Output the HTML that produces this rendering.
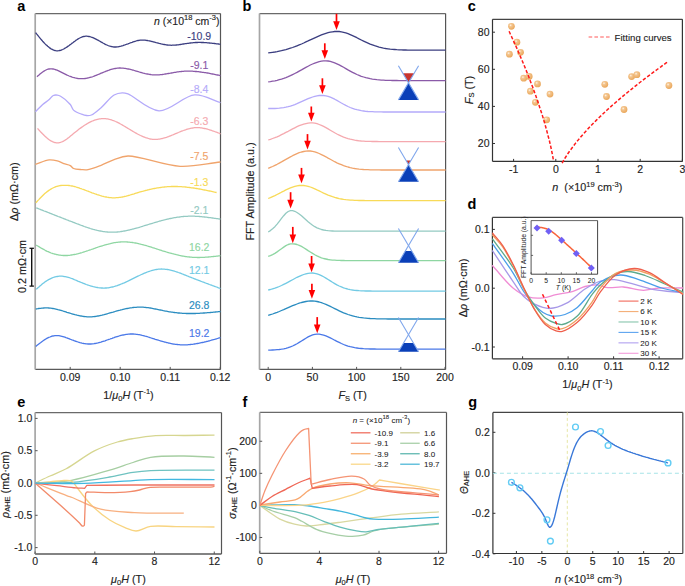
<!DOCTYPE html>
<html><head><meta charset="utf-8"><style>
html,body{margin:0;padding:0;background:#fff;width:685px;height:586px;overflow:hidden;}
svg{display:block;font-family:"Liberation Sans", sans-serif;}
</style></head><body>
<svg width="685" height="586" viewBox="0 0 685 586">
<rect width="685" height="586" fill="#fff"/>
<line x1="35.20" y1="13.60" x2="220.50" y2="13.60" stroke="#6a6a6a" stroke-width="1.3" />
<line x1="220.50" y1="13.60" x2="220.50" y2="369.40" stroke="#555" stroke-width="1.2" />
<line x1="35.20" y1="369.40" x2="220.50" y2="369.40" stroke="#5a5a5a" stroke-width="1.3" />
<line x1="35.20" y1="13.60" x2="35.20" y2="369.40" stroke="#a6a6a6" stroke-width="1.7" />
<line x1="70.20" y1="369.40" x2="70.20" y2="366.90" stroke="#555" stroke-width="1" />
<text x="70.20" y="380.60" font-size="10.5" text-anchor="middle" fill="#222" font-weight="normal" stroke="#222" stroke-width="0.14" >0.09</text>
<line x1="120.20" y1="369.40" x2="120.20" y2="366.90" stroke="#555" stroke-width="1" />
<text x="120.20" y="380.60" font-size="10.5" text-anchor="middle" fill="#222" font-weight="normal" stroke="#222" stroke-width="0.14" >0.10</text>
<line x1="170.20" y1="369.40" x2="170.20" y2="366.90" stroke="#555" stroke-width="1" />
<text x="170.20" y="380.60" font-size="10.5" text-anchor="middle" fill="#222" font-weight="normal" stroke="#222" stroke-width="0.14" >0.11</text>
<line x1="220.20" y1="369.40" x2="220.20" y2="366.90" stroke="#555" stroke-width="1" />
<text x="220.20" y="380.60" font-size="10.5" text-anchor="middle" fill="#222" font-weight="normal" stroke="#222" stroke-width="0.14" >0.12</text>
<text x="128.50" y="398.60" font-size="10.8" text-anchor="middle" fill="#222" font-weight="normal" stroke="#222" stroke-width="0.14" >1/<tspan font-style="italic">μ</tspan><tspan font-size="7.5" dy="2.2">0</tspan><tspan dy="-2.2"><tspan font-style="italic">H</tspan> (T<tspan font-size="7.5" dy="-4.2">-1</tspan><tspan dy="4.2">)</tspan></tspan></text>
<text x="21.40" y="11.10" font-size="14.5" text-anchor="middle" fill="#000" font-weight="bold" >a</text>
<path d="M35.6,32.6 36.6,33.9 37.6,35.1 38.6,36.4 39.6,37.6 40.6,38.8 41.6,40.0 42.6,41.2 43.6,42.3 44.6,43.4 45.6,44.4 46.7,45.3 47.7,46.3 48.7,47.1 49.7,47.9 50.7,48.6 51.7,49.2 52.7,49.7 53.7,50.1 54.7,50.5 55.7,50.7 56.7,50.8 57.7,50.8 58.7,50.7 59.7,50.5 60.7,50.3 61.7,49.9 62.7,49.5 63.7,49.0 64.7,48.4 65.7,47.8 66.8,47.1 67.8,46.4 68.8,45.7 69.8,44.9 70.8,44.2 71.8,43.4 72.8,42.7 73.8,41.9 74.8,41.2 75.8,40.4 76.8,39.8 77.8,39.1 78.8,38.5 79.8,38.0 80.8,37.5 81.8,37.1 82.8,36.7 83.8,36.5 84.8,36.3 85.8,36.2 86.8,36.2 87.9,36.3 88.9,36.5 89.9,36.7 90.9,37.0 91.9,37.3 92.9,37.7 93.9,38.1 94.9,38.6 95.9,39.1 96.9,39.6 97.9,40.2 98.9,40.7 99.9,41.3 100.9,41.9 101.9,42.4 102.9,43.0 103.9,43.5 104.9,44.1 105.9,44.6 106.9,45.0 108.0,45.5 109.0,45.9 110.0,46.2 111.0,46.5 112.0,46.7 113.0,46.9 114.0,47.0 115.0,47.0 116.0,47.0 117.0,46.9 118.0,46.8 119.0,46.6 120.0,46.4 121.0,46.2 122.0,45.9 123.0,45.6 124.0,45.2 125.0,44.9 126.0,44.5 127.0,44.1 128.0,43.8 129.1,43.4 130.1,43.0 131.1,42.6 132.1,42.3 133.1,41.9 134.1,41.6 135.1,41.3 136.1,41.0 137.1,40.7 138.1,40.5 139.1,40.4 140.1,40.2 141.1,40.2 142.1,40.1 143.1,40.1 144.1,40.2 145.1,40.2 146.1,40.4 147.1,40.5 148.1,40.7 149.2,40.8 150.2,41.0 151.2,41.3 152.2,41.5 153.2,41.8 154.2,42.0 155.2,42.3 156.2,42.6 157.2,42.8 158.2,43.1 159.2,43.4 160.2,43.6 161.2,43.9 162.2,44.1 163.2,44.3 164.2,44.5 165.2,44.7 166.2,44.9 167.2,45.0 168.2,45.1 169.3,45.2 170.3,45.2 171.3,45.3 172.3,45.2 173.3,45.2 174.3,45.2 175.3,45.1 176.3,45.0 177.3,44.9 178.3,44.8 179.3,44.6 180.3,44.5 181.3,44.4 182.3,44.2 183.3,44.0 184.3,43.9 185.3,43.7 186.3,43.6 187.3,43.4 188.3,43.3 189.3,43.1 190.4,43.0 191.4,42.9 192.4,42.8 193.4,42.7 194.4,42.6 195.4,42.5 196.4,42.5 197.4,42.5 198.4,42.4 199.4,42.4 200.4,42.4 201.4,42.5 202.4,42.5 203.4,42.5 204.4,42.6 205.4,42.6 206.4,42.7 207.4,42.8 208.4,42.9 209.4,43.0 210.5,43.1 211.5,43.2 212.5,43.3 213.5,43.4 214.5,43.5 215.5,43.6 216.5,43.8 217.5,43.9 218.5,44.0 219.5,44.2 220.5,44.3" fill="none" stroke="#3B3E80" stroke-width="1.3" stroke-linejoin="round"/>
<text x="199.20" y="40.40" font-size="10.5" text-anchor="middle" fill="#3B3E80" font-weight="normal" stroke="#3B3E80" stroke-width="0.14" >-10.9</text>
<path d="M37.0,76.7 38.0,75.8 39.0,75.0 40.0,74.1 41.0,73.3 42.0,72.5 43.0,71.8 44.0,71.1 45.0,70.5 46.0,70.0 47.0,69.5 48.0,69.2 49.0,69.0 50.0,68.8 51.0,68.8 52.0,68.8 53.0,69.0 54.0,69.2 55.0,69.5 56.1,69.8 57.1,70.2 58.1,70.6 59.1,71.1 60.1,71.6 61.1,72.1 62.1,72.6 63.1,73.1 64.1,73.6 65.1,74.1 66.1,74.6 67.1,75.1 68.1,75.5 69.1,76.0 70.1,76.3 71.1,76.7 72.1,77.1 73.1,77.4 74.1,77.6 75.1,77.9 76.1,78.1 77.1,78.3 78.1,78.5 79.1,78.6 80.1,78.7 81.1,78.7 82.1,78.7 83.1,78.7 84.1,78.6 85.1,78.5 86.1,78.4 87.1,78.2 88.1,78.0 89.1,77.7 90.1,77.4 91.1,77.1 92.2,76.8 93.2,76.5 94.2,76.1 95.2,75.7 96.2,75.3 97.2,74.9 98.2,74.5 99.2,74.1 100.2,73.7 101.2,73.2 102.2,72.8 103.2,72.4 104.2,72.0 105.2,71.6 106.2,71.2 107.2,70.8 108.2,70.4 109.2,70.1 110.2,69.7 111.2,69.4 112.2,69.1 113.2,68.9 114.2,68.7 115.2,68.5 116.2,68.3 117.2,68.2 118.2,68.1 119.2,68.0 120.2,68.0 121.2,68.1 122.2,68.1 123.2,68.2 124.2,68.3 125.2,68.4 126.2,68.6 127.2,68.8 128.2,69.0 129.3,69.2 130.3,69.4 131.3,69.7 132.3,70.0 133.3,70.2 134.3,70.5 135.3,70.8 136.3,71.1 137.3,71.4 138.3,71.7 139.3,72.0 140.3,72.3 141.3,72.5 142.3,72.8 143.3,73.1 144.3,73.3 145.3,73.6 146.3,73.8 147.3,74.0 148.3,74.2 149.3,74.4 150.3,74.5 151.3,74.7 152.3,74.8 153.3,74.8 154.3,74.9 155.3,74.9 156.3,74.9 157.3,74.9 158.3,74.8 159.3,74.8 160.3,74.7 161.3,74.6 162.3,74.5 163.3,74.3 164.3,74.2 165.3,74.0 166.4,73.9 167.4,73.7 168.4,73.5 169.4,73.3 170.4,73.2 171.4,73.0 172.4,72.8 173.4,72.6 174.4,72.4 175.4,72.3 176.4,72.1 177.4,71.9 178.4,71.8 179.4,71.7 180.4,71.6 181.4,71.5 182.4,71.4 183.4,71.3 184.4,71.2 185.4,71.2 186.4,71.2 187.4,71.1 188.4,71.1 189.4,71.1 190.4,71.2 191.4,71.2 192.4,71.2 193.4,71.3 194.4,71.4 195.4,71.5 196.4,71.5 197.4,71.6 198.4,71.7 199.4,71.9 200.4,72.0 201.4,72.1 202.5,72.3 203.5,72.4 204.5,72.6 205.5,72.7 206.5,72.9 207.5,73.0 208.5,73.2 209.5,73.4 210.5,73.6 211.5,73.8 212.5,74.0 213.5,74.2 214.5,74.4 215.5,74.6 216.5,74.8 217.5,75.0 218.5,75.2 219.5,75.4 220.5,75.6" fill="none" stroke="#8A5AA8" stroke-width="1.3" stroke-linejoin="round"/>
<text x="199.20" y="69.20" font-size="10.5" text-anchor="middle" fill="#8A5AA8" font-weight="normal" stroke="#8A5AA8" stroke-width="0.14" >-9.1</text>
<path d="M35.40,111.80 C37.83,109.37 40.26,106.62 42.70,104.50 C44.86,102.62 47.33,101.23 49.20,99.60 C50.78,98.23 51.81,96.21 53.30,95.50 C54.54,94.91 56.05,94.94 57.30,95.10 C58.47,95.25 59.29,95.54 60.60,96.30 C63.09,97.74 68.08,101.83 70.30,104.50 C71.88,106.40 71.88,108.56 73.50,110.10 C75.42,111.93 79.19,113.28 81.60,114.20 C83.40,114.88 84.85,115.37 86.50,115.50 C88.12,115.63 89.60,115.70 91.40,115.00 C94.22,113.89 97.73,110.60 101.10,107.70 C105.23,104.16 109.98,97.36 114.10,95.00 C116.90,93.40 119.71,92.90 122.20,92.80 C124.28,92.72 125.40,92.97 128.00,93.90 C134.35,96.17 148.19,110.37 159.00,110.80 C170.37,111.26 183.64,95.59 194.70,94.90 C203.88,94.32 211.90,100.10 220.50,102.70" fill="none" stroke="#B4AAFA" stroke-width="1.3" stroke-linejoin="round"/>
<text x="199.20" y="93.00" font-size="10.5" text-anchor="middle" fill="#B4AAFA" font-weight="normal" stroke="#B4AAFA" stroke-width="0.14" >-8.4</text>
<path d="M37.5,128.4 38.5,129.5 39.5,130.6 40.5,131.7 41.5,132.7 42.5,133.8 43.5,134.8 44.5,135.8 45.5,136.7 46.5,137.6 47.5,138.4 48.5,139.2 49.5,140.0 50.5,140.6 51.5,141.2 52.5,141.7 53.5,142.1 54.5,142.5 55.5,142.7 56.5,142.9 57.5,142.9 58.5,142.8 59.5,142.6 60.5,142.4 61.5,142.0 62.5,141.6 63.5,141.1 64.5,140.5 65.5,139.9 66.5,139.2 67.5,138.4 68.5,137.7 69.5,136.9 70.5,136.1 71.5,135.3 72.5,134.4 73.5,133.6 74.5,132.8 75.5,132.0 76.5,131.2 77.5,130.4 78.5,129.6 79.5,128.8 80.5,128.1 81.5,127.4 82.5,126.7 83.5,126.0 84.5,125.3 85.5,124.7 86.5,124.1 87.5,123.5 88.5,122.9 89.5,122.4 90.5,121.9 91.5,121.4 92.5,121.0 93.5,120.6 94.5,120.2 95.5,119.9 96.5,119.6 97.5,119.3 98.5,119.1 99.5,118.9 100.5,118.8 101.5,118.7 102.5,118.6 103.5,118.6 104.5,118.6 105.5,118.7 106.5,118.8 107.5,118.9 108.5,119.1 109.5,119.4 110.5,119.6 111.5,119.9 112.5,120.3 113.5,120.6 114.5,121.0 115.5,121.5 116.5,121.9 117.5,122.4 118.5,122.9 119.5,123.4 120.5,124.0 121.5,124.5 122.5,125.1 123.5,125.7 124.5,126.3 125.5,126.9 126.5,127.5 127.5,128.1 128.5,128.7 129.5,129.3 130.5,129.9 131.5,130.5 132.5,131.1 133.5,131.7 134.5,132.3 135.5,132.9 136.5,133.4 137.5,134.0 138.5,134.5 139.5,135.0 140.5,135.5 141.5,135.9 142.5,136.4 143.5,136.8 144.5,137.2 145.5,137.6 146.5,137.9 147.5,138.2 148.5,138.5 149.5,138.8 150.5,139.0 151.5,139.1 152.5,139.3 153.5,139.4 154.5,139.4 155.5,139.4 156.5,139.4 157.5,139.3 158.5,139.2 159.5,139.1 160.5,138.9 161.5,138.7 162.5,138.5 163.5,138.2 164.5,137.9 165.5,137.6 166.5,137.3 167.5,136.9 168.5,136.6 169.5,136.2 170.5,135.8 171.5,135.4 172.5,135.0 173.5,134.6 174.5,134.2 175.5,133.7 176.5,133.3 177.5,132.9 178.5,132.5 179.5,132.0 180.5,131.6 181.5,131.2 182.5,130.8 183.5,130.5 184.5,130.1 185.5,129.8 186.5,129.4 187.5,129.1 188.5,128.8 189.5,128.6 190.5,128.3 191.5,128.1 192.5,128.0 193.5,127.8 194.5,127.7 195.5,127.6 196.5,127.6 197.5,127.6 198.5,127.6 199.5,127.7 200.5,127.8 201.5,127.9 202.5,128.1 203.5,128.3 204.5,128.5 205.5,128.7 206.5,128.9 207.5,129.2 208.5,129.5 209.5,129.8 210.5,130.1 211.5,130.4 212.5,130.8 213.5,131.1 214.5,131.5 215.5,131.9 216.5,132.2 217.5,132.6 218.5,133.0 219.5,133.4 220.5,133.8" fill="none" stroke="#F5A9AF" stroke-width="1.3" stroke-linejoin="round"/>
<text x="199.20" y="125.40" font-size="10.5" text-anchor="middle" fill="#F5A9AF" font-weight="normal" stroke="#F5A9AF" stroke-width="0.14" >-6.3</text>
<path d="M35.40,164.40 C40.00,162.90 45.17,160.29 49.20,159.90 C52.22,159.61 54.79,160.24 57.30,160.90 C59.63,161.52 61.61,162.81 63.80,163.60 C65.95,164.37 68.59,164.63 70.30,165.60 C71.66,166.37 72.06,167.83 73.50,168.50 C75.49,169.42 79.04,169.43 81.60,169.60 C83.88,169.75 85.60,170.00 88.10,169.60 C91.73,169.02 96.80,166.95 101.10,165.30 C105.47,163.62 109.63,161.15 114.10,159.60 C118.60,158.04 121.86,156.18 128.00,156.00 C139.80,155.66 163.78,165.57 180.10,166.30 C194.37,166.94 207.03,163.43 220.50,162.00" fill="none" stroke="#F0A46C" stroke-width="1.3" stroke-linejoin="round"/>
<text x="199.20" y="160.00" font-size="10.5" text-anchor="middle" fill="#F0A46C" font-weight="normal" stroke="#F0A46C" stroke-width="0.14" >-7.5</text>
<path d="M35.8,202.8 36.8,201.7 37.8,200.6 38.8,199.6 39.8,198.5 40.8,197.5 41.8,196.5 42.8,195.5 43.8,194.5 44.8,193.6 45.8,192.7 46.8,191.9 47.9,191.1 48.9,190.4 49.9,189.7 50.9,189.1 51.9,188.5 52.9,188.0 53.9,187.5 54.9,187.1 55.9,186.7 56.9,186.4 57.9,186.1 58.9,185.9 59.9,185.7 60.9,185.5 61.9,185.4 62.9,185.3 63.9,185.3 64.9,185.3 65.9,185.3 66.9,185.3 67.9,185.4 68.9,185.5 70.0,185.7 71.0,185.8 72.0,186.0 73.0,186.2 74.0,186.5 75.0,186.7 76.0,187.0 77.0,187.3 78.0,187.6 79.0,187.9 80.0,188.3 81.0,188.6 82.0,189.0 83.0,189.3 84.0,189.7 85.0,190.1 86.0,190.5 87.0,190.9 88.0,191.2 89.0,191.6 90.0,192.0 91.0,192.4 92.0,192.8 93.1,193.1 94.1,193.5 95.1,193.9 96.1,194.2 97.1,194.6 98.1,194.9 99.1,195.2 100.1,195.5 101.1,195.8 102.1,196.1 103.1,196.3 104.1,196.6 105.1,196.8 106.1,197.0 107.1,197.2 108.1,197.3 109.1,197.5 110.1,197.6 111.1,197.7 112.1,197.8 113.1,197.8 114.1,197.8 115.2,197.8 116.2,197.7 117.2,197.7 118.2,197.6 119.2,197.4 120.2,197.3 121.2,197.1 122.2,197.0 123.2,196.8 124.2,196.5 125.2,196.3 126.2,196.1 127.2,195.8 128.2,195.5 129.2,195.3 130.2,195.0 131.2,194.7 132.2,194.4 133.2,194.1 134.2,193.8 135.2,193.4 136.2,193.1 137.2,192.8 138.3,192.5 139.3,192.2 140.3,191.9 141.3,191.6 142.3,191.3 143.3,191.1 144.3,190.8 145.3,190.5 146.3,190.3 147.3,190.0 148.3,189.8 149.3,189.5 150.3,189.3 151.3,189.1 152.3,188.9 153.3,188.7 154.3,188.5 155.3,188.3 156.3,188.1 157.3,187.9 158.3,187.8 159.3,187.6 160.4,187.5 161.4,187.3 162.4,187.2 163.4,187.1 164.4,187.0 165.4,186.9 166.4,186.8 167.4,186.7 168.4,186.7 169.4,186.6 170.4,186.6 171.4,186.5 172.4,186.5 173.4,186.5 174.4,186.5 175.4,186.5 176.4,186.5 177.4,186.5 178.4,186.6 179.4,186.6 180.4,186.6 181.4,186.7 182.4,186.8 183.5,186.9 184.5,186.9 185.5,187.0 186.5,187.1 187.5,187.3 188.5,187.4 189.5,187.5 190.5,187.6 191.5,187.8 192.5,187.9 193.5,188.0 194.5,188.2 195.5,188.4 196.5,188.5 197.5,188.7 198.5,188.9 199.5,189.0 200.5,189.2 201.5,189.4 202.5,189.6 203.5,189.8 204.5,190.0 205.6,190.2 206.6,190.4 207.6,190.6 208.6,190.8 209.6,191.0 210.6,191.2 211.6,191.4 212.6,191.6 213.6,191.9 214.6,192.1 215.6,192.3 216.6,192.5" fill="none" stroke="#F8DA58" stroke-width="1.3" stroke-linejoin="round"/>
<text x="199.20" y="186.00" font-size="10.5" text-anchor="middle" fill="#F8DA58" font-weight="normal" stroke="#F8DA58" stroke-width="0.14" >-1.3</text>
<path d="M36.2,207.8 37.2,208.2 38.2,208.6 39.2,209.0 40.2,209.4 41.2,209.8 42.2,210.2 43.2,210.6 44.2,211.0 45.2,211.3 46.2,211.7 47.2,212.1 48.2,212.5 49.2,212.9 50.2,213.3 51.2,213.7 52.2,214.1 53.2,214.5 54.2,214.9 55.2,215.3 56.2,215.7 57.2,216.1 58.2,216.5 59.2,216.8 60.2,217.2 61.2,217.6 62.2,218.0 63.2,218.4 64.2,218.8 65.2,219.2 66.2,219.6 67.3,220.0 68.3,220.4 69.3,220.8 70.3,221.1 71.3,221.5 72.3,221.9 73.3,222.3 74.3,222.7 75.3,223.1 76.3,223.5 77.3,223.9 78.3,224.2 79.3,224.6 80.3,225.0 81.3,225.4 82.3,225.7 83.3,226.1 84.3,226.5 85.3,226.8 86.3,227.2 87.3,227.5 88.3,227.8 89.3,228.1 90.3,228.5 91.3,228.8 92.3,229.1 93.3,229.4 94.3,229.6 95.3,229.9 96.3,230.1 97.3,230.4 98.3,230.6 99.3,230.8 100.3,231.0 101.3,231.2 102.3,231.4 103.3,231.6 104.3,231.7 105.3,231.8 106.3,231.9 107.3,232.0 108.3,232.1 109.3,232.2 110.3,232.2 111.3,232.2 112.3,232.2 113.3,232.2 114.3,232.2 115.3,232.1 116.3,232.1 117.3,232.0 118.3,231.9 119.3,231.8 120.3,231.7 121.3,231.5 122.3,231.4 123.3,231.2 124.3,231.0 125.3,230.8 126.3,230.6 127.3,230.4 128.4,230.2 129.4,230.0 130.4,229.7 131.4,229.5 132.4,229.2 133.4,229.0 134.4,228.7 135.4,228.4 136.4,228.1 137.4,227.8 138.4,227.6 139.4,227.3 140.4,227.0 141.4,226.7 142.4,226.4 143.4,226.0 144.4,225.7 145.4,225.4 146.4,225.1 147.4,224.8 148.4,224.5 149.4,224.2 150.4,223.9 151.4,223.6 152.4,223.3 153.4,223.0 154.4,222.7 155.4,222.4 156.4,222.1 157.4,221.8 158.4,221.5 159.4,221.2 160.4,221.0 161.4,220.7 162.4,220.4 163.4,220.2 164.4,219.9 165.4,219.7 166.4,219.4 167.4,219.2 168.4,219.0 169.4,218.7 170.4,218.5 171.4,218.3 172.4,218.1 173.4,217.9 174.4,217.7 175.4,217.6 176.4,217.4 177.4,217.2 178.4,217.1 179.4,217.0 180.4,216.8 181.4,216.7 182.4,216.6 183.4,216.5 184.4,216.4 185.4,216.4 186.4,216.3 187.4,216.3 188.4,216.2 189.4,216.2 190.5,216.2 191.5,216.2 192.5,216.2 193.5,216.2 194.5,216.2 195.5,216.3 196.5,216.3 197.5,216.4 198.5,216.4 199.5,216.5 200.5,216.6 201.5,216.7 202.5,216.8 203.5,216.9 204.5,217.0 205.5,217.1 206.5,217.2 207.5,217.3 208.5,217.5 209.5,217.6 210.5,217.7 211.5,217.9 212.5,218.0 213.5,218.1 214.5,218.3 215.5,218.4 216.5,218.6 217.5,218.7 218.5,218.9 219.5,219.0 220.5,219.2" fill="none" stroke="#94CAC2" stroke-width="1.3" stroke-linejoin="round"/>
<text x="199.20" y="214.00" font-size="10.5" text-anchor="middle" fill="#94CAC2" font-weight="normal" stroke="#94CAC2" stroke-width="0.14" >-2.1</text>
<path d="M36.2,245.1 37.2,245.7 38.2,246.3 39.2,246.9 40.2,247.5 41.2,248.1 42.2,248.6 43.2,249.2 44.2,249.7 45.2,250.3 46.2,250.8 47.2,251.3 48.2,251.7 49.2,252.2 50.2,252.6 51.2,253.0 52.2,253.3 53.2,253.7 54.2,254.0 55.2,254.2 56.2,254.5 57.2,254.7 58.2,254.9 59.2,255.1 60.2,255.2 61.2,255.3 62.2,255.4 63.2,255.5 64.2,255.5 65.2,255.5 66.2,255.5 67.3,255.5 68.3,255.4 69.3,255.3 70.3,255.2 71.3,255.0 72.3,254.9 73.3,254.7 74.3,254.5 75.3,254.3 76.3,254.1 77.3,253.8 78.3,253.6 79.3,253.3 80.3,253.0 81.3,252.8 82.3,252.5 83.3,252.1 84.3,251.8 85.3,251.5 86.3,251.2 87.3,250.8 88.3,250.5 89.3,250.1 90.3,249.8 91.3,249.5 92.3,249.1 93.3,248.8 94.3,248.4 95.3,248.1 96.3,247.7 97.3,247.4 98.3,247.0 99.3,246.7 100.3,246.4 101.3,246.1 102.3,245.8 103.3,245.5 104.3,245.2 105.3,244.9 106.3,244.6 107.3,244.3 108.3,244.1 109.3,243.8 110.3,243.6 111.3,243.3 112.3,243.1 113.3,242.9 114.3,242.7 115.3,242.6 116.3,242.4 117.3,242.3 118.3,242.2 119.3,242.1 120.3,242.0 121.3,241.9 122.3,241.9 123.3,241.9 124.3,241.9 125.3,241.9 126.3,241.9 127.3,242.0 128.4,242.1 129.4,242.2 130.4,242.3 131.4,242.4 132.4,242.5 133.4,242.7 134.4,242.8 135.4,243.0 136.4,243.2 137.4,243.4 138.4,243.6 139.4,243.9 140.4,244.1 141.4,244.4 142.4,244.6 143.4,244.9 144.4,245.2 145.4,245.4 146.4,245.7 147.4,246.0 148.4,246.3 149.4,246.6 150.4,246.9 151.4,247.2 152.4,247.6 153.4,247.9 154.4,248.2 155.4,248.5 156.4,248.8 157.4,249.2 158.4,249.5 159.4,249.8 160.4,250.1 161.4,250.4 162.4,250.8 163.4,251.1 164.4,251.4 165.4,251.7 166.4,252.0 167.4,252.3 168.4,252.6 169.4,252.9 170.4,253.1 171.4,253.4 172.4,253.7 173.4,253.9 174.4,254.2 175.4,254.4 176.4,254.7 177.4,254.9 178.4,255.1 179.4,255.4 180.4,255.6 181.4,255.8 182.4,256.0 183.4,256.1 184.4,256.3 185.4,256.5 186.4,256.6 187.4,256.8 188.4,256.9 189.4,257.0 190.5,257.1 191.5,257.2 192.5,257.3 193.5,257.3 194.5,257.4 195.5,257.4 196.5,257.4 197.5,257.5 198.5,257.5 199.5,257.5 200.5,257.4 201.5,257.4 202.5,257.4 203.5,257.3 204.5,257.3 205.5,257.2 206.5,257.1 207.5,257.1 208.5,257.0 209.5,256.9 210.5,256.8 211.5,256.7 212.5,256.6 213.5,256.5 214.5,256.4 215.5,256.3 216.5,256.2 217.5,256.1 218.5,255.9 219.5,255.8 220.5,255.7" fill="none" stroke="#8ED6A2" stroke-width="1.3" stroke-linejoin="round"/>
<text x="199.20" y="251.00" font-size="10.5" text-anchor="middle" fill="#8ED6A2" font-weight="normal" stroke="#8ED6A2" stroke-width="0.14" >16.2</text>
<path d="M36.2,289.3 37.2,288.4 38.2,287.5 39.2,286.7 40.2,285.8 41.2,285.0 42.2,284.1 43.2,283.3 44.2,282.6 45.2,281.8 46.2,281.1 47.2,280.5 48.2,279.9 49.2,279.3 50.2,278.8 51.2,278.3 52.2,277.9 53.2,277.5 54.2,277.2 55.2,276.9 56.2,276.7 57.2,276.5 58.2,276.3 59.2,276.2 60.2,276.2 61.2,276.2 62.2,276.2 63.2,276.3 64.2,276.5 65.2,276.6 66.2,276.8 67.3,277.1 68.3,277.4 69.3,277.7 70.3,278.0 71.3,278.4 72.3,278.7 73.3,279.1 74.3,279.6 75.3,280.0 76.3,280.4 77.3,280.8 78.3,281.3 79.3,281.7 80.3,282.1 81.3,282.5 82.3,282.9 83.3,283.3 84.3,283.7 85.3,284.1 86.3,284.5 87.3,284.8 88.3,285.2 89.3,285.5 90.3,285.8 91.3,286.1 92.3,286.4 93.3,286.7 94.3,286.9 95.3,287.1 96.3,287.3 97.3,287.5 98.3,287.7 99.3,287.8 100.3,287.9 101.3,288.0 102.3,288.0 103.3,288.1 104.3,288.1 105.3,288.0 106.3,288.0 107.3,287.9 108.3,287.8 109.3,287.6 110.3,287.4 111.3,287.2 112.3,287.0 113.3,286.8 114.3,286.5 115.3,286.2 116.3,285.9 117.3,285.6 118.3,285.2 119.3,284.8 120.3,284.4 121.3,284.0 122.3,283.6 123.3,283.2 124.3,282.8 125.3,282.3 126.3,281.8 127.3,281.4 128.4,280.9 129.4,280.4 130.4,279.9 131.4,279.4 132.4,278.9 133.4,278.4 134.4,277.9 135.4,277.4 136.4,276.9 137.4,276.4 138.4,275.9 139.4,275.5 140.4,275.0 141.4,274.5 142.4,274.1 143.4,273.6 144.4,273.2 145.4,272.8 146.4,272.4 147.4,272.0 148.4,271.6 149.4,271.3 150.4,271.0 151.4,270.7 152.4,270.4 153.4,270.1 154.4,269.9 155.4,269.7 156.4,269.5 157.4,269.3 158.4,269.2 159.4,269.1 160.4,269.1 161.4,269.0 162.4,269.1 163.4,269.1 164.4,269.2 165.4,269.3 166.4,269.4 167.4,269.5 168.4,269.7 169.4,269.9 170.4,270.1 171.4,270.3 172.4,270.6 173.4,270.9 174.4,271.2 175.4,271.5 176.4,271.8 177.4,272.1 178.4,272.5 179.4,272.8 180.4,273.2 181.4,273.6 182.4,274.0 183.4,274.4 184.4,274.8 185.4,275.2 186.4,275.6 187.4,276.0 188.4,276.4 189.4,276.8 190.5,277.2 191.5,277.6 192.5,278.0 193.5,278.4 194.5,278.8 195.5,279.2 196.5,279.6 197.5,279.9 198.5,280.3 199.5,280.7 200.5,281.1 201.5,281.5 202.5,281.9 203.5,282.2 204.5,282.6 205.5,283.0 206.5,283.4 207.5,283.7 208.5,284.1 209.5,284.5 210.5,284.8 211.5,285.2 212.5,285.6 213.5,285.9 214.5,286.3 215.5,286.7 216.5,287.0 217.5,287.4 218.5,287.8 219.5,288.1 220.5,288.5" fill="none" stroke="#72CAE4" stroke-width="1.3" stroke-linejoin="round"/>
<text x="199.20" y="274.00" font-size="10.5" text-anchor="middle" fill="#72CAE4" font-weight="normal" stroke="#72CAE4" stroke-width="0.14" >12.1</text>
<path d="M35.8,309.0 36.8,308.8 37.8,308.7 38.8,308.5 39.8,308.4 40.8,308.3 41.8,308.2 42.8,308.1 43.8,308.0 44.8,307.9 45.8,307.9 46.8,307.9 47.8,307.9 48.8,308.0 49.9,308.1 50.9,308.2 51.9,308.3 52.9,308.5 53.9,308.7 54.9,308.9 55.9,309.1 56.9,309.3 57.9,309.6 58.9,309.8 59.9,310.1 60.9,310.4 61.9,310.7 62.9,311.0 63.9,311.3 64.9,311.6 65.9,311.9 66.9,312.3 67.9,312.6 68.9,312.9 69.9,313.2 70.9,313.5 71.9,313.8 72.9,314.1 73.9,314.4 74.9,314.7 76.0,314.9 77.0,315.2 78.0,315.4 79.0,315.6 80.0,315.9 81.0,316.0 82.0,316.2 83.0,316.4 84.0,316.5 85.0,316.6 86.0,316.7 87.0,316.8 88.0,316.9 89.0,316.9 90.0,316.9 91.0,316.9 92.0,316.8 93.0,316.7 94.0,316.6 95.0,316.5 96.0,316.4 97.0,316.2 98.0,316.0 99.0,315.8 100.0,315.6 101.0,315.4 102.1,315.2 103.1,314.9 104.1,314.7 105.1,314.4 106.1,314.1 107.1,313.8 108.1,313.5 109.1,313.2 110.1,312.9 111.1,312.6 112.1,312.3 113.1,312.1 114.1,311.8 115.1,311.5 116.1,311.2 117.1,310.9 118.1,310.6 119.1,310.3 120.1,310.1 121.1,309.8 122.1,309.6 123.1,309.3 124.1,309.1 125.1,308.9 126.1,308.7 127.1,308.5 128.1,308.3 129.2,308.1 130.2,307.9 131.2,307.8 132.2,307.7 133.2,307.5 134.2,307.4 135.2,307.3 136.2,307.3 137.2,307.2 138.2,307.1 139.2,307.1 140.2,307.1 141.2,307.1 142.2,307.1 143.2,307.2 144.2,307.3 145.2,307.3 146.2,307.5 147.2,307.6 148.2,307.7 149.2,307.9 150.2,308.0 151.2,308.2 152.2,308.4 153.2,308.6 154.2,308.8 155.3,309.0 156.3,309.2 157.3,309.4 158.3,309.6 159.3,309.8 160.3,310.0 161.3,310.2 162.3,310.4 163.3,310.7 164.3,310.9 165.3,311.1 166.3,311.2 167.3,311.4 168.3,311.6 169.3,311.8 170.3,311.9 171.3,312.1 172.3,312.2 173.3,312.4 174.3,312.5 175.3,312.6 176.3,312.7 177.3,312.9 178.3,313.0 179.3,313.0 180.3,313.1 181.4,313.2 182.4,313.3 183.4,313.3 184.4,313.4 185.4,313.4 186.4,313.5 187.4,313.5 188.4,313.5 189.4,313.5 190.4,313.5 191.4,313.5 192.4,313.5 193.4,313.5 194.4,313.5 195.4,313.5 196.4,313.4 197.4,313.4 198.4,313.3 199.4,313.3 200.4,313.2 201.4,313.2 202.4,313.1 203.4,313.0 204.4,313.0 205.4,312.9 206.4,312.8 207.5,312.7 208.5,312.7 209.5,312.6 210.5,312.5 211.5,312.4 212.5,312.3 213.5,312.2 214.5,312.1 215.5,312.0 216.5,311.9 217.5,311.8 218.5,311.7 219.5,311.6 220.5,311.5" fill="none" stroke="#2A8CC0" stroke-width="1.3" stroke-linejoin="round"/>
<text x="199.20" y="309.20" font-size="10.5" text-anchor="middle" fill="#2A8CC0" font-weight="normal" stroke="#2A8CC0" stroke-width="0.14" >26.8</text>
<path d="M35.8,346.4 36.8,345.6 37.8,344.8 38.8,344.0 39.8,343.2 40.8,342.5 41.8,341.7 42.8,341.0 43.8,340.3 44.8,339.6 45.8,339.0 46.8,338.4 47.8,337.9 48.8,337.4 49.9,337.0 50.9,336.6 51.9,336.2 52.9,336.0 53.9,335.8 54.9,335.6 55.9,335.6 56.9,335.6 57.9,335.6 58.9,335.7 59.9,335.9 60.9,336.1 61.9,336.3 62.9,336.6 63.9,336.9 64.9,337.2 65.9,337.6 66.9,337.9 67.9,338.3 68.9,338.7 69.9,339.1 70.9,339.5 71.9,339.9 72.9,340.2 73.9,340.6 74.9,341.0 76.0,341.3 77.0,341.7 78.0,342.0 79.0,342.3 80.0,342.6 81.0,342.8 82.0,343.1 83.0,343.3 84.0,343.5 85.0,343.6 86.0,343.8 87.0,343.9 88.0,344.0 89.0,344.0 90.0,344.0 91.0,344.0 92.0,343.9 93.0,343.8 94.0,343.7 95.0,343.5 96.0,343.3 97.0,343.1 98.0,342.9 99.0,342.6 100.0,342.3 101.0,342.1 102.1,341.7 103.1,341.4 104.1,341.1 105.1,340.8 106.1,340.4 107.1,340.0 108.1,339.7 109.1,339.3 110.1,339.0 111.1,338.6 112.1,338.3 113.1,337.9 114.1,337.6 115.1,337.2 116.1,336.9 117.1,336.6 118.1,336.3 119.1,336.0 120.1,335.7 121.1,335.4 122.1,335.2 123.1,335.0 124.1,334.8 125.1,334.6 126.1,334.4 127.1,334.3 128.1,334.2 129.2,334.1 130.2,334.0 131.2,334.0 132.2,334.0 133.2,334.0 134.2,334.1 135.2,334.2 136.2,334.3 137.2,334.4 138.2,334.6 139.2,334.7 140.2,334.9 141.2,335.1 142.2,335.4 143.2,335.6 144.2,335.9 145.2,336.2 146.2,336.4 147.2,336.7 148.2,337.0 149.2,337.3 150.2,337.7 151.2,338.0 152.2,338.3 153.2,338.6 154.2,338.9 155.3,339.3 156.3,339.6 157.3,339.9 158.3,340.2 159.3,340.5 160.3,340.8 161.3,341.1 162.3,341.4 163.3,341.7 164.3,342.0 165.3,342.2 166.3,342.5 167.3,342.7 168.3,343.0 169.3,343.2 170.3,343.4 171.3,343.6 172.3,343.8 173.3,344.0 174.3,344.1 175.3,344.3 176.3,344.4 177.3,344.5 178.3,344.6 179.3,344.7 180.3,344.8 181.4,344.8 182.4,344.9 183.4,344.9 184.4,344.9 185.4,344.8 186.4,344.8 187.4,344.8 188.4,344.7 189.4,344.6 190.4,344.5 191.4,344.4 192.4,344.3 193.4,344.2 194.4,344.0 195.4,343.9 196.4,343.7 197.4,343.5 198.4,343.3 199.4,343.1 200.4,342.9 201.4,342.7 202.4,342.5 203.4,342.3 204.4,342.0 205.4,341.8 206.4,341.5 207.5,341.3 208.5,341.0 209.5,340.8 210.5,340.5 211.5,340.2 212.5,339.9 213.5,339.6 214.5,339.4 215.5,339.1 216.5,338.8 217.5,338.5 218.5,338.2 219.5,337.9 220.5,337.6" fill="none" stroke="#4A78E8" stroke-width="1.3" stroke-linejoin="round"/>
<text x="199.20" y="337.40" font-size="10.5" text-anchor="middle" fill="#4A78E8" font-weight="normal" stroke="#4A78E8" stroke-width="0.14" >19.2</text>
<text x="219.50" y="24.50" font-size="10.5" text-anchor="end" fill="#222" font-weight="normal" stroke="#222" stroke-width="0.14" ><tspan font-style="italic">n</tspan> (×10<tspan font-size="7.5" dy="-4.2">18</tspan><tspan dy="4.2"> cm<tspan font-size="7.5" dy="-4.2">-3</tspan><tspan dy="4.2">)</tspan></tspan></text>
<text x="0" y="0" font-size="10.8" text-anchor="middle" dominant-baseline="central" fill="#222" stroke="#222" stroke-width="0.14" transform="translate(14.30,191.70) rotate(-90)">Δ<tspan font-style="italic">ρ</tspan> (mΩ·cm)</text>
<line x1="31.70" y1="248.30" x2="31.70" y2="286.10" stroke="#111" stroke-width="1.4" />
<line x1="29.50" y1="248.30" x2="33.90" y2="248.30" stroke="#111" stroke-width="1.3" />
<line x1="29.50" y1="286.10" x2="33.90" y2="286.10" stroke="#111" stroke-width="1.3" />
<text x="0" y="0" font-size="10.8" text-anchor="middle" dominant-baseline="central" fill="#222" stroke="#222" stroke-width="0.14" transform="translate(22.20,266.50) rotate(-90)">0.2 mΩ·cm</text>
<line x1="259.50" y1="13.60" x2="445.60" y2="13.60" stroke="#6a6a6a" stroke-width="1.3" />
<line x1="445.60" y1="13.60" x2="445.60" y2="369.40" stroke="#555" stroke-width="1.2" />
<line x1="259.50" y1="369.40" x2="445.60" y2="369.40" stroke="#5a5a5a" stroke-width="1.3" />
<line x1="259.50" y1="13.60" x2="259.50" y2="369.40" stroke="#a6a6a6" stroke-width="1.7" />
<line x1="268.20" y1="369.40" x2="268.20" y2="366.90" stroke="#555" stroke-width="1" />
<text x="268.20" y="380.60" font-size="10.5" text-anchor="middle" fill="#222" font-weight="normal" stroke="#222" stroke-width="0.14" >0</text>
<line x1="312.40" y1="369.40" x2="312.40" y2="366.90" stroke="#555" stroke-width="1" />
<text x="312.40" y="380.60" font-size="10.5" text-anchor="middle" fill="#222" font-weight="normal" stroke="#222" stroke-width="0.14" >50</text>
<line x1="356.60" y1="369.40" x2="356.60" y2="366.90" stroke="#555" stroke-width="1" />
<text x="356.60" y="380.60" font-size="10.5" text-anchor="middle" fill="#222" font-weight="normal" stroke="#222" stroke-width="0.14" >100</text>
<line x1="400.80" y1="369.40" x2="400.80" y2="366.90" stroke="#555" stroke-width="1" />
<text x="400.80" y="380.60" font-size="10.5" text-anchor="middle" fill="#222" font-weight="normal" stroke="#222" stroke-width="0.14" >150</text>
<line x1="445.00" y1="369.40" x2="445.00" y2="366.90" stroke="#555" stroke-width="1" />
<text x="445.00" y="380.60" font-size="10.5" text-anchor="middle" fill="#222" font-weight="normal" stroke="#222" stroke-width="0.14" >200</text>
<text x="352.60" y="398.60" font-size="10.8" text-anchor="middle" fill="#222" font-weight="normal" stroke="#222" stroke-width="0.14" ><tspan font-style="italic">F</tspan><tspan font-size="7.5" dy="2.2">S</tspan><tspan dy="-2.2"> (T)</tspan></text>
<text x="247.00" y="11.10" font-size="14.5" text-anchor="middle" fill="#000" font-weight="bold" >b</text>
<text x="0" y="0" font-size="10.8" text-anchor="middle" dominant-baseline="central" fill="#222" stroke="#222" stroke-width="0.14" transform="translate(249.50,191.50) rotate(-90)">FFT Amplitude (a.u.)</text>
<path d="M268.2,52.9 270.4,52.6 272.6,52.3 274.9,52.0 277.1,51.6 279.3,51.1 281.5,50.7 283.7,50.1 285.9,49.6 288.2,48.9 290.4,48.2 292.6,47.5 294.8,46.7 297.0,45.8 299.2,44.9 301.5,44.0 303.7,43.0 305.9,41.9 308.1,40.9 310.3,39.8 312.6,38.8 314.8,37.8 317.0,36.8 319.2,35.8 321.4,34.9 323.6,34.1 325.9,33.4 328.1,32.7 330.3,32.2 332.5,31.8 334.7,31.5 336.9,31.4 339.2,31.5 341.4,31.8 343.6,32.3 345.8,32.9 348.0,33.7 350.2,34.6 352.5,35.6 354.7,36.6 356.9,37.7 359.1,38.9 361.3,40.0 363.6,41.1 365.8,42.1 368.0,43.1 370.2,44.1 372.4,44.9 374.6,45.7 376.9,46.4 379.1,47.1 381.3,47.6 383.5,48.1 385.7,48.5 387.9,48.8 390.2,49.1 392.4,49.3 394.6,49.5 396.8,49.7 399.0,49.8 401.2,49.9 403.5,50.0 405.7,50.0 407.9,50.1 410.1,50.1 412.3,50.1 414.6,50.2 416.8,50.2 419.0,50.2 421.2,50.2 423.4,50.2 425.6,50.2 427.9,50.2 430.1,50.2 432.3,50.2 434.5,50.2 436.7,50.2 438.9,50.2 441.2,50.2 443.4,50.2 445.6,50.2" fill="none" stroke="#3B3E80" stroke-width="1.3" stroke-linejoin="round"/>
<path d="M268.2,81.9 270.4,81.6 272.6,81.2 274.9,80.8 277.1,80.3 279.3,79.7 281.5,79.1 283.7,78.4 285.9,77.6 288.2,76.7 290.4,75.7 292.6,74.6 294.8,73.5 297.0,72.4 299.2,71.1 301.5,69.9 303.7,68.6 305.9,67.4 308.1,66.2 310.3,65.0 312.6,64.0 314.8,63.1 317.0,62.3 319.2,61.6 321.4,61.2 323.6,60.9 325.9,60.8 328.1,61.0 330.3,61.4 332.5,62.1 334.7,62.9 336.9,63.8 339.2,64.9 341.4,66.1 343.6,67.3 345.8,68.6 348.0,69.9 350.2,71.1 352.5,72.3 354.7,73.4 356.9,74.5 359.1,75.4 361.3,76.3 363.6,77.0 365.8,77.7 368.0,78.2 370.2,78.7 372.4,79.1 374.6,79.4 376.9,79.7 379.1,79.9 381.3,80.1 383.5,80.2 385.7,80.3 387.9,80.4 390.2,80.4 392.4,80.5 394.6,80.5 396.8,80.5 399.0,80.6 401.2,80.6 403.5,80.6 405.7,80.6 407.9,80.6 410.1,80.6 412.3,80.6 414.6,80.6 416.8,80.6 419.0,80.6 421.2,80.6 423.4,80.6 425.6,80.6 427.9,80.6 430.1,80.6 432.3,80.6 434.5,80.6 436.7,80.6 438.9,80.6 441.2,80.6 443.4,80.6 445.6,80.6" fill="none" stroke="#8A5AA8" stroke-width="1.3" stroke-linejoin="round"/>
<path d="M268.2,108.5 270.4,108.5 272.6,108.5 274.9,108.5 277.1,108.3 279.3,108.2 281.5,107.9 283.7,107.6 285.9,107.2 288.2,106.7 290.4,106.1 292.6,105.4 294.8,104.6 297.0,103.7 299.2,102.7 301.5,101.7 303.7,100.7 305.9,99.7 308.1,98.7 310.3,97.8 312.6,97.0 314.8,96.3 317.0,95.8 319.2,95.5 321.4,95.5 323.6,95.5 325.9,95.8 328.1,96.4 330.3,97.2 332.5,98.1 334.7,99.2 336.9,100.4 339.2,101.7 341.4,103.0 343.6,104.2 345.8,105.4 348.0,106.5 350.2,107.5 352.5,108.3 354.7,109.1 356.9,109.7 359.1,110.2 361.3,110.7 363.6,111.0 365.8,111.3 368.0,111.5 370.2,111.6 372.4,111.7 374.6,111.8 376.9,111.9 379.1,111.9 381.3,111.9 383.5,112.0 385.7,112.0 387.9,112.0 390.2,112.0 392.4,112.0 394.6,112.0 396.8,112.0 399.0,112.0 401.2,112.0 403.5,112.0 405.7,112.0 407.9,112.0 410.1,112.0 412.3,112.0 414.6,112.0 416.8,112.0 419.0,112.0 421.2,112.0 423.4,112.0 425.6,112.0 427.9,112.0 430.1,112.0 432.3,112.0 434.5,112.0 436.7,112.0 438.9,112.0 441.2,112.0 443.4,112.0 445.6,112.0" fill="none" stroke="#B4AAFA" stroke-width="1.3" stroke-linejoin="round"/>
<path d="M268.2,140.0 270.4,139.3 272.6,138.5 274.9,137.7 277.1,136.8 279.3,135.8 281.5,134.7 283.7,133.6 285.9,132.4 288.2,131.3 290.4,130.1 292.6,128.9 294.8,127.8 297.0,126.7 299.2,125.7 301.5,124.9 303.7,124.2 305.9,123.6 308.1,123.2 310.3,122.9 312.6,122.9 314.8,123.2 317.0,123.7 319.2,124.5 321.4,125.4 323.6,126.4 325.9,127.6 328.1,128.9 330.3,130.2 332.5,131.5 334.7,132.8 336.9,134.0 339.2,135.1 341.4,136.2 343.6,137.1 345.8,137.9 348.0,138.6 350.2,139.2 352.5,139.7 354.7,140.2 356.9,140.5 359.1,140.8 361.3,141.0 363.6,141.1 365.8,141.3 368.0,141.4 370.2,141.4 372.4,141.5 374.6,141.5 376.9,141.5 379.1,141.6 381.3,141.6 383.5,141.6 385.7,141.6 387.9,141.6 390.2,141.6 392.4,141.6 394.6,141.6 396.8,141.6 399.0,141.6 401.2,141.6 403.5,141.6 405.7,141.6 407.9,141.6 410.1,141.6 412.3,141.6 414.6,141.6 416.8,141.6 419.0,141.6 421.2,141.6 423.4,141.6 425.6,141.6 427.9,141.6 430.1,141.6 432.3,141.6 434.5,141.6 436.7,141.6 438.9,141.6 441.2,141.6 443.4,141.6 445.6,141.6" fill="none" stroke="#F5A9AF" stroke-width="1.3" stroke-linejoin="round"/>
<path d="M268.2,168.3 270.4,167.4 272.6,166.5 274.9,165.4 277.1,164.3 279.3,163.1 281.5,161.9 283.7,160.6 285.9,159.4 288.2,158.1 290.4,156.9 292.6,155.7 294.8,154.6 297.0,153.6 299.2,152.7 301.5,152.0 303.7,151.5 305.9,151.1 308.1,150.9 310.3,151.0 312.6,151.4 314.8,151.9 317.0,152.7 319.2,153.5 321.4,154.6 323.6,155.7 325.9,156.8 328.1,158.1 330.3,159.3 332.5,160.5 334.7,161.7 336.9,162.8 339.2,163.8 341.4,164.7 343.6,165.6 345.8,166.3 348.0,167.0 350.2,167.6 352.5,168.1 354.7,168.5 356.9,168.8 359.1,169.1 361.3,169.3 363.6,169.5 365.8,169.6 368.0,169.7 370.2,169.8 372.4,169.8 374.6,169.9 376.9,169.9 379.1,169.9 381.3,170.0 383.5,170.0 385.7,170.0 387.9,170.0 390.2,170.0 392.4,170.0 394.6,170.0 396.8,170.0 399.0,170.0 401.2,170.0 403.5,170.0 405.7,170.0 407.9,170.0 410.1,170.0 412.3,170.0 414.6,170.0 416.8,170.0 419.0,170.0 421.2,170.0 423.4,170.0 425.6,170.0 427.9,170.0 430.1,170.0 432.3,170.0 434.5,170.0 436.7,170.0 438.9,170.0 441.2,170.0 443.4,170.0 445.6,170.0" fill="none" stroke="#F0A46C" stroke-width="1.3" stroke-linejoin="round"/>
<path d="M268.2,198.5 270.4,197.6 272.6,196.6 274.9,195.6 277.1,194.5 279.3,193.4 281.5,192.2 283.7,191.1 285.9,189.9 288.2,188.9 290.4,187.9 292.6,187.1 294.8,186.4 297.0,185.8 299.2,185.5 301.5,185.3 303.7,185.5 305.9,185.8 308.1,186.3 310.3,187.0 312.6,187.9 314.8,188.8 317.0,189.9 319.2,190.9 321.4,192.0 323.6,193.1 325.9,194.1 328.1,195.1 330.3,195.9 332.5,196.7 334.7,197.4 336.9,198.0 339.2,198.6 341.4,199.0 343.6,199.4 345.8,199.7 348.0,199.9 350.2,200.1 352.5,200.2 354.7,200.3 356.9,200.4 359.1,200.5 361.3,200.5 363.6,200.5 365.8,200.6 368.0,200.6 370.2,200.6 372.4,200.6 374.6,200.6 376.9,200.6 379.1,200.6 381.3,200.6 383.5,200.6 385.7,200.6 387.9,200.6 390.2,200.6 392.4,200.6 394.6,200.6 396.8,200.6 399.0,200.6 401.2,200.6 403.5,200.6 405.7,200.6 407.9,200.6 410.1,200.6 412.3,200.6 414.6,200.6 416.8,200.6 419.0,200.6 421.2,200.6 423.4,200.6 425.6,200.6 427.9,200.6 430.1,200.6 432.3,200.6 434.5,200.6 436.7,200.6 438.9,200.6 441.2,200.6 443.4,200.6 445.6,200.6" fill="none" stroke="#F8DA58" stroke-width="1.3" stroke-linejoin="round"/>
<path d="M268.2,232.0 270.4,230.6 272.6,228.8 274.9,226.7 277.1,224.1 279.3,221.3 281.5,218.4 283.7,215.7 285.9,213.3 288.2,211.5 290.4,210.6 292.6,210.7 294.8,211.3 297.0,212.5 299.2,214.0 301.5,215.8 303.7,217.8 305.9,219.8 308.1,221.8 310.3,223.6 312.6,225.3 314.8,226.7 317.0,227.8 319.2,228.7 321.4,229.5 323.6,230.0 325.9,230.4 328.1,230.7 330.3,230.9 332.5,231.0 334.7,231.1 336.9,231.1 339.2,231.2 341.4,231.2 343.6,231.2 345.8,231.2 348.0,231.2 350.2,231.2 352.5,231.2 354.7,231.2 356.9,231.2 359.1,231.2 361.3,231.2 363.6,231.2 365.8,231.2 368.0,231.2 370.2,231.2 372.4,231.2 374.6,231.2 376.9,231.2 379.1,231.2 381.3,231.2 383.5,231.2 385.7,231.2 387.9,231.2 390.2,231.2 392.4,231.2 394.6,231.2 396.8,231.2 399.0,231.2 401.2,231.2 403.5,231.2 405.7,231.2 407.9,231.2 410.1,231.2 412.3,231.2 414.6,231.2 416.8,231.2 419.0,231.2 421.2,231.2 423.4,231.2 425.6,231.2 427.9,231.2 430.1,231.2 432.3,231.2 434.5,231.2 436.7,231.2 438.9,231.2 441.2,231.2 443.4,231.2 445.6,231.2" fill="none" stroke="#94CAC2" stroke-width="1.3" stroke-linejoin="round"/>
<path d="M268.2,256.3 270.4,255.6 272.6,254.6 274.9,253.4 277.1,251.9 279.3,250.3 281.5,248.7 283.7,247.1 285.9,245.6 288.2,244.5 290.4,243.9 292.6,243.8 294.8,244.0 297.0,244.5 299.2,245.3 301.5,246.4 303.7,247.7 305.9,249.1 308.1,250.6 310.3,252.0 312.6,253.4 314.8,254.7 317.0,255.9 319.2,256.9 321.4,257.8 323.6,258.5 325.9,259.0 328.1,259.5 330.3,259.8 332.5,260.1 334.7,260.2 336.9,260.4 339.2,260.4 341.4,260.5 343.6,260.5 345.8,260.6 348.0,260.6 350.2,260.6 352.5,260.6 354.7,260.6 356.9,260.6 359.1,260.6 361.3,260.6 363.6,260.6 365.8,260.6 368.0,260.6 370.2,260.6 372.4,260.6 374.6,260.6 376.9,260.6 379.1,260.6 381.3,260.6 383.5,260.6 385.7,260.6 387.9,260.6 390.2,260.6 392.4,260.6 394.6,260.6 396.8,260.6 399.0,260.6 401.2,260.6 403.5,260.6 405.7,260.6 407.9,260.6 410.1,260.6 412.3,260.6 414.6,260.6 416.8,260.6 419.0,260.6 421.2,260.6 423.4,260.6 425.6,260.6 427.9,260.6 430.1,260.6 432.3,260.6 434.5,260.6 436.7,260.6 438.9,260.6 441.2,260.6 443.4,260.6 445.6,260.6" fill="none" stroke="#8ED6A2" stroke-width="1.3" stroke-linejoin="round"/>
<path d="M268.2,290.0 270.4,289.5 272.6,288.8 274.9,288.1 277.1,287.3 279.3,286.5 281.5,285.5 283.7,284.4 285.9,283.3 288.2,282.1 290.4,280.9 292.6,279.7 294.8,278.5 297.0,277.3 299.2,276.3 301.5,275.3 303.7,274.5 305.9,273.8 308.1,273.3 310.3,273.1 312.6,273.0 314.8,273.3 317.0,273.8 319.2,274.6 321.4,275.6 323.6,276.8 325.9,278.1 328.1,279.5 330.3,280.9 332.5,282.3 334.7,283.6 336.9,284.9 339.2,286.0 341.4,286.9 343.6,287.8 345.8,288.5 348.0,289.1 350.2,289.6 352.5,290.0 354.7,290.3 356.9,290.5 359.1,290.7 361.3,290.8 363.6,290.9 365.8,291.0 368.0,291.0 370.2,291.0 372.4,291.1 374.6,291.1 376.9,291.1 379.1,291.1 381.3,291.1 383.5,291.1 385.7,291.1 387.9,291.1 390.2,291.1 392.4,291.1 394.6,291.1 396.8,291.1 399.0,291.1 401.2,291.1 403.5,291.1 405.7,291.1 407.9,291.1 410.1,291.1 412.3,291.1 414.6,291.1 416.8,291.1 419.0,291.1 421.2,291.1 423.4,291.1 425.6,291.1 427.9,291.1 430.1,291.1 432.3,291.1 434.5,291.1 436.7,291.1 438.9,291.1 441.2,291.1 443.4,291.1 445.6,291.1" fill="none" stroke="#72CAE4" stroke-width="1.3" stroke-linejoin="round"/>
<path d="M268.2,315.4 270.4,314.7 272.6,314.0 274.9,313.2 277.1,312.4 279.3,311.5 281.5,310.5 283.7,309.6 285.9,308.6 288.2,307.6 290.4,306.6 292.6,305.7 294.8,304.8 297.0,304.0 299.2,303.2 301.5,302.5 303.7,302.0 305.9,301.5 308.1,301.2 310.3,301.0 312.6,301.0 314.8,301.2 317.0,301.5 319.2,302.0 321.4,302.7 323.6,303.5 325.9,304.4 328.1,305.4 330.3,306.4 332.5,307.5 334.7,308.6 336.9,309.7 339.2,310.8 341.4,311.8 343.6,312.8 345.8,313.6 348.0,314.5 350.2,315.2 352.5,315.8 354.7,316.4 356.9,316.9 359.1,317.3 361.3,317.6 363.6,317.9 365.8,318.1 368.0,318.3 370.2,318.5 372.4,318.6 374.6,318.7 376.9,318.8 379.1,318.8 381.3,318.9 383.5,318.9 385.7,318.9 387.9,319.0 390.2,319.0 392.4,319.0 394.6,319.0 396.8,319.0 399.0,319.0 401.2,319.0 403.5,319.0 405.7,319.0 407.9,319.0 410.1,319.0 412.3,319.0 414.6,319.0 416.8,319.0 419.0,319.0 421.2,319.0 423.4,319.0 425.6,319.0 427.9,319.0 430.1,319.0 432.3,319.0 434.5,319.0 436.7,319.0 438.9,319.0 441.2,319.0 443.4,319.0 445.6,319.0" fill="none" stroke="#2A8CC0" stroke-width="1.3" stroke-linejoin="round"/>
<path d="M268.2,350.2 270.4,350.1 272.6,350.0 274.9,349.9 277.1,349.7 279.3,349.5 281.5,349.2 283.7,348.8 285.9,348.3 288.2,347.7 290.4,346.9 292.6,346.0 294.8,344.9 297.0,343.7 299.2,342.4 301.5,341.0 303.7,339.6 305.9,338.2 308.1,336.9 310.3,335.8 312.6,334.9 314.8,334.3 317.0,334.1 319.2,334.2 321.4,334.6 323.6,335.1 325.9,335.9 328.1,336.8 330.3,337.9 332.5,339.0 334.7,340.2 336.9,341.3 339.2,342.4 341.4,343.5 343.6,344.5 345.8,345.3 348.0,346.1 350.2,346.7 352.5,347.2 354.7,347.7 356.9,348.0 359.1,348.3 361.3,348.5 363.6,348.7 365.8,348.8 368.0,348.9 370.2,349.0 372.4,349.0 374.6,349.0 376.9,349.1 379.1,349.1 381.3,349.1 383.5,349.1 385.7,349.1 387.9,349.1 390.2,349.1 392.4,349.1 394.6,349.1 396.8,349.1 399.0,349.1 401.2,349.1 403.5,349.1 405.7,349.1 407.9,349.1 410.1,349.1 412.3,349.1 414.6,349.1 416.8,349.1 419.0,349.1 421.2,349.1 423.4,349.1 425.6,349.1 427.9,349.1 430.1,349.1 432.3,349.1 434.5,349.1 436.7,349.1 438.9,349.1 441.2,349.1 443.4,349.1 445.6,349.1" fill="none" stroke="#4A78E8" stroke-width="1.3" stroke-linejoin="round"/>
<line x1="336.50" y1="13.80" x2="336.50" y2="24.60" stroke="#FF0000" stroke-width="1.7" />
<path d="M333.20,21.30 L339.80,21.30 L336.50,30.00 Z" fill="#FF0000"/>
<line x1="324.80" y1="43.30" x2="324.80" y2="53.60" stroke="#FF0000" stroke-width="1.7" />
<path d="M321.50,50.30 L328.10,50.30 L324.80,59.00 Z" fill="#FF0000"/>
<line x1="322.40" y1="78.30" x2="322.40" y2="88.60" stroke="#FF0000" stroke-width="1.7" />
<path d="M319.10,85.30 L325.70,85.30 L322.40,94.00 Z" fill="#FF0000"/>
<line x1="311.30" y1="106.50" x2="311.30" y2="116.00" stroke="#FF0000" stroke-width="1.7" />
<path d="M308.00,112.70 L314.60,112.70 L311.30,121.40 Z" fill="#FF0000"/>
<line x1="307.50" y1="134.10" x2="307.50" y2="144.10" stroke="#FF0000" stroke-width="1.7" />
<path d="M304.20,140.80 L310.80,140.80 L307.50,149.50 Z" fill="#FF0000"/>
<line x1="301.50" y1="167.90" x2="301.50" y2="177.90" stroke="#FF0000" stroke-width="1.7" />
<path d="M298.20,174.60 L304.80,174.60 L301.50,183.30 Z" fill="#FF0000"/>
<line x1="290.60" y1="192.20" x2="290.60" y2="203.10" stroke="#FF0000" stroke-width="1.7" />
<path d="M287.30,199.80 L293.90,199.80 L290.60,208.50 Z" fill="#FF0000"/>
<line x1="292.80" y1="226.90" x2="292.80" y2="237.90" stroke="#FF0000" stroke-width="1.7" />
<path d="M289.50,234.60 L296.10,234.60 L292.80,243.30 Z" fill="#FF0000"/>
<line x1="311.60" y1="256.00" x2="311.60" y2="266.90" stroke="#FF0000" stroke-width="1.7" />
<path d="M308.30,263.60 L314.90,263.60 L311.60,272.30 Z" fill="#FF0000"/>
<line x1="311.90" y1="283.80" x2="311.90" y2="293.40" stroke="#FF0000" stroke-width="1.7" />
<path d="M308.60,290.10 L315.20,290.10 L311.90,298.80 Z" fill="#FF0000"/>
<line x1="317.20" y1="317.10" x2="317.20" y2="327.90" stroke="#FF0000" stroke-width="1.7" />
<path d="M313.90,324.60 L320.50,324.60 L317.20,333.30 Z" fill="#FF0000"/>
<path d="M402.89,73.30 L414.11,73.30 L408.50,82.80 Z" fill="#C8352E"/>
<path d="M408.50,82.80 L418.60,99.90 L398.40,99.90 Z" fill="#0A3FB8"/>
<line x1="398.40" y1="65.70" x2="418.60" y2="99.90" stroke="#7FA6EC" stroke-width="1.1" />
<line x1="418.60" y1="65.70" x2="398.40" y2="99.90" stroke="#7FA6EC" stroke-width="1.1" />
<path d="M406.08,160.50 L410.92,160.50 L408.50,164.60 Z" fill="#C8352E"/>
<path d="M408.50,164.60 L418.60,181.70 L398.40,181.70 Z" fill="#0A3FB8"/>
<line x1="398.40" y1="147.50" x2="418.60" y2="181.70" stroke="#7FA6EC" stroke-width="1.1" />
<line x1="418.60" y1="147.50" x2="398.40" y2="181.70" stroke="#7FA6EC" stroke-width="1.1" />
<path d="M405.25,251.10 L411.75,251.10 L418.60,262.70 L398.40,262.70 Z" fill="#0A3FB8"/>
<line x1="398.40" y1="228.50" x2="418.60" y2="262.70" stroke="#7FA6EC" stroke-width="1.1" />
<line x1="418.60" y1="228.50" x2="398.40" y2="262.70" stroke="#7FA6EC" stroke-width="1.1" />
<path d="M403.60,342.90 L413.40,342.90 L418.60,351.70 L398.40,351.70 Z" fill="#0A3FB8"/>
<line x1="398.40" y1="317.50" x2="418.60" y2="351.70" stroke="#7FA6EC" stroke-width="1.1" />
<line x1="418.60" y1="317.50" x2="398.40" y2="351.70" stroke="#7FA6EC" stroke-width="1.1" />
<line x1="492.50" y1="19.30" x2="682.40" y2="19.30" stroke="#444" stroke-width="1.2" />
<line x1="682.40" y1="19.30" x2="682.40" y2="161.40" stroke="#333" stroke-width="1.2" />
<line x1="492.50" y1="161.40" x2="682.40" y2="161.40" stroke="#333" stroke-width="1.2" />
<line x1="492.50" y1="19.30" x2="492.50" y2="161.40" stroke="#333" stroke-width="1.2" />
<line x1="513.60" y1="161.40" x2="513.60" y2="158.90" stroke="#333" stroke-width="1" />
<text x="513.60" y="172.60" font-size="10.5" text-anchor="middle" fill="#222" font-weight="normal" stroke="#222" stroke-width="0.14" >-1</text>
<line x1="555.80" y1="161.40" x2="555.80" y2="158.90" stroke="#333" stroke-width="1" />
<text x="555.80" y="172.60" font-size="10.5" text-anchor="middle" fill="#222" font-weight="normal" stroke="#222" stroke-width="0.14" >0</text>
<line x1="598.00" y1="161.40" x2="598.00" y2="158.90" stroke="#333" stroke-width="1" />
<text x="598.00" y="172.60" font-size="10.5" text-anchor="middle" fill="#222" font-weight="normal" stroke="#222" stroke-width="0.14" >1</text>
<line x1="640.20" y1="161.40" x2="640.20" y2="158.90" stroke="#333" stroke-width="1" />
<text x="640.20" y="172.60" font-size="10.5" text-anchor="middle" fill="#222" font-weight="normal" stroke="#222" stroke-width="0.14" >2</text>
<line x1="682.40" y1="161.40" x2="682.40" y2="158.90" stroke="#333" stroke-width="1" />
<text x="682.40" y="172.60" font-size="10.5" text-anchor="middle" fill="#222" font-weight="normal" stroke="#222" stroke-width="0.14" >3</text>
<line x1="492.50" y1="143.50" x2="495.00" y2="143.50" stroke="#333" stroke-width="1" />
<text x="489.50" y="147.20" font-size="10.5" text-anchor="end" fill="#222" font-weight="normal" stroke="#222" stroke-width="0.14" >20</text>
<line x1="492.50" y1="106.40" x2="495.00" y2="106.40" stroke="#333" stroke-width="1" />
<text x="489.50" y="110.10" font-size="10.5" text-anchor="end" fill="#222" font-weight="normal" stroke="#222" stroke-width="0.14" >40</text>
<line x1="492.50" y1="69.30" x2="495.00" y2="69.30" stroke="#333" stroke-width="1" />
<text x="489.50" y="73.00" font-size="10.5" text-anchor="end" fill="#222" font-weight="normal" stroke="#222" stroke-width="0.14" >60</text>
<line x1="492.50" y1="32.20" x2="495.00" y2="32.20" stroke="#333" stroke-width="1" />
<text x="489.50" y="35.90" font-size="10.5" text-anchor="end" fill="#222" font-weight="normal" stroke="#222" stroke-width="0.14" >80</text>
<text x="471.80" y="11.20" font-size="14.5" text-anchor="middle" fill="#000" font-weight="bold" >c</text>
<text x="587.30" y="190.80" font-size="10.8" text-anchor="middle" fill="#222" font-weight="normal" stroke="#222" stroke-width="0.14" ><tspan font-style="italic">n</tspan><tspan dx="3"> </tspan>(×10<tspan font-size="7.5" dy="-4.2">19</tspan><tspan dy="4.2"> cm<tspan font-size="7.5" dy="-4.2">-3</tspan><tspan dy="4.2">)</tspan></tspan></text>
<text x="0" y="0" font-size="10.8" text-anchor="middle" dominant-baseline="central" fill="#222" stroke="#222" stroke-width="0.14" transform="translate(469.00,90.00) rotate(-90)"><tspan font-style="italic">F</tspan><tspan font-size="7.5" dy="2.2">S</tspan><tspan dy="-2.2"> (T)</tspan></text>
<defs><radialGradient id="ball" cx="0.38" cy="0.35" r="0.65"><stop offset="0" stop-color="#FFF6EA"/><stop offset="0.3" stop-color="#F4C690"/><stop offset="1" stop-color="#EAA85C"/></radialGradient></defs>
<circle cx="511.40" cy="26.30" r="3.4" fill="url(#ball)"/>
<circle cx="516.90" cy="42.20" r="3.4" fill="url(#ball)"/>
<circle cx="509.40" cy="54.20" r="3.4" fill="url(#ball)"/>
<circle cx="520.50" cy="52.30" r="3.4" fill="url(#ball)"/>
<circle cx="523.70" cy="78.20" r="3.4" fill="url(#ball)"/>
<circle cx="529.20" cy="76.40" r="3.4" fill="url(#ball)"/>
<circle cx="537.50" cy="83.90" r="3.4" fill="url(#ball)"/>
<circle cx="530.40" cy="91.20" r="3.4" fill="url(#ball)"/>
<circle cx="550.00" cy="94.10" r="3.4" fill="url(#ball)"/>
<circle cx="535.40" cy="102.30" r="3.4" fill="url(#ball)"/>
<circle cx="546.70" cy="119.80" r="3.4" fill="url(#ball)"/>
<circle cx="604.80" cy="84.30" r="3.4" fill="url(#ball)"/>
<circle cx="606.50" cy="96.50" r="3.4" fill="url(#ball)"/>
<circle cx="624.00" cy="109.50" r="3.4" fill="url(#ball)"/>
<circle cx="631.60" cy="76.60" r="3.4" fill="url(#ball)"/>
<circle cx="636.90" cy="74.70" r="3.4" fill="url(#ball)"/>
<circle cx="668.90" cy="85.50" r="3.4" fill="url(#ball)"/>
<path d="M509.1,31.3 510.2,33.7 511.3,36.1 512.4,38.5 513.5,41.0 514.6,43.4 515.8,45.9 516.9,48.4 518.0,51.0 519.1,53.5 520.2,56.1 521.3,58.7 522.4,61.3 523.6,64.0 524.7,66.7 525.8,69.4 526.9,72.2 528.0,75.0 529.1,77.8 530.2,80.7 531.3,83.6 532.5,86.6 533.6,89.6 534.7,92.7 535.8,95.8 536.9,99.0 538.0,102.2 539.1,105.5 540.2,108.9 541.4,112.4 542.5,115.9 543.6,119.6 544.7,123.3 545.8,127.2 546.9,131.3 548.0,135.5 549.2,139.9 550.3,144.6 551.4,149.6 552.5,155.1 553.6,161.2" fill="none" stroke="#FF1A1A" stroke-width="1.5" stroke-dasharray="3.4,1.9"/>
<path d="M562.1,163.1 564.8,158.5 567.4,154.3 570.1,150.5 572.8,146.9 575.4,143.4 578.1,140.1 580.7,137.0 583.4,133.9 586.1,131.0 588.7,128.1 591.4,125.3 594.0,122.6 596.7,119.9 599.4,117.3 602.0,114.8 604.7,112.3 607.3,109.8 610.0,107.4 612.6,105.0 615.3,102.7 618.0,100.4 620.6,98.1 623.3,95.9 625.9,93.7 628.6,91.5 631.3,89.3 633.9,87.2 636.6,85.1 639.2,83.0 641.9,80.9 644.5,78.9 647.2,76.9 649.9,74.9 652.5,72.9 655.2,70.9 657.8,69.0 660.5,67.1 663.2,65.1 665.8,63.2 668.5,61.4" fill="none" stroke="#FF1A1A" stroke-width="1.5" stroke-dasharray="3.4,1.9"/>
<line x1="588.6" y1="37" x2="610" y2="37" stroke="#FF5A5A" stroke-width="1.2" stroke-dasharray="3.6,2.2"/>
<text x="614.60" y="40.50" font-size="9.6" text-anchor="start" fill="#222" font-weight="normal" stroke="#222" stroke-width="0.11" >Fitting curves</text>
<line x1="492.40" y1="217.40" x2="682.70" y2="217.40" stroke="#444" stroke-width="1.2" />
<line x1="682.70" y1="217.40" x2="682.70" y2="358.80" stroke="#444" stroke-width="1.2" />
<line x1="492.40" y1="358.80" x2="682.70" y2="358.80" stroke="#333" stroke-width="1.2" />
<line x1="492.40" y1="217.40" x2="492.40" y2="358.80" stroke="#333" stroke-width="1.2" />
<line x1="522.60" y1="358.80" x2="522.60" y2="356.30" stroke="#333" stroke-width="1" />
<text x="522.60" y="370.30" font-size="10.5" text-anchor="middle" fill="#222" font-weight="normal" stroke="#222" stroke-width="0.14" >0.09</text>
<line x1="568.10" y1="358.80" x2="568.10" y2="356.30" stroke="#333" stroke-width="1" />
<text x="568.10" y="370.30" font-size="10.5" text-anchor="middle" fill="#222" font-weight="normal" stroke="#222" stroke-width="0.14" >0.10</text>
<line x1="613.60" y1="358.80" x2="613.60" y2="356.30" stroke="#333" stroke-width="1" />
<text x="613.60" y="370.30" font-size="10.5" text-anchor="middle" fill="#222" font-weight="normal" stroke="#222" stroke-width="0.14" >0.11</text>
<line x1="659.10" y1="358.80" x2="659.10" y2="356.30" stroke="#333" stroke-width="1" />
<text x="659.10" y="370.30" font-size="10.5" text-anchor="middle" fill="#222" font-weight="normal" stroke="#222" stroke-width="0.14" >0.12</text>
<line x1="492.40" y1="229.40" x2="494.90" y2="229.40" stroke="#333" stroke-width="1" />
<text x="489.50" y="233.10" font-size="10.5" text-anchor="end" fill="#222" font-weight="normal" stroke="#222" stroke-width="0.14" >0.1</text>
<line x1="492.40" y1="288.20" x2="494.90" y2="288.20" stroke="#333" stroke-width="1" />
<text x="489.50" y="291.90" font-size="10.5" text-anchor="end" fill="#222" font-weight="normal" stroke="#222" stroke-width="0.14" >0.0</text>
<line x1="492.40" y1="347.00" x2="494.90" y2="347.00" stroke="#333" stroke-width="1" />
<text x="489.50" y="350.70" font-size="10.5" text-anchor="end" fill="#222" font-weight="normal" stroke="#222" stroke-width="0.14" >-0.1</text>
<text x="472.00" y="209.00" font-size="14.5" text-anchor="middle" fill="#000" font-weight="bold" >d</text>
<text x="587.50" y="388.30" font-size="10.8" text-anchor="middle" fill="#222" font-weight="normal" stroke="#222" stroke-width="0.14" >1/<tspan font-style="italic">μ</tspan><tspan font-size="7.5" dy="2.2">0</tspan><tspan dy="-2.2"><tspan font-style="italic">H</tspan> (T<tspan font-size="7.5" dy="-4.2">-1</tspan><tspan dy="4.2">)</tspan></tspan></text>
<text x="0" y="0" font-size="10.8" text-anchor="middle" dominant-baseline="central" fill="#222" stroke="#222" stroke-width="0.14" transform="translate(462.90,288.00) rotate(-90)">Δ<tspan font-style="italic">ρ</tspan> (mΩ·cm)</text>
<path d="M492.60,265.80 C499.50,273.27 506.56,282.82 513.30,288.20 C518.36,292.24 523.04,295.23 528.20,296.80 C533.03,298.27 538.43,298.23 543.20,297.80 C547.67,297.40 551.42,295.60 556.00,294.60 C561.25,293.45 567.89,292.91 573.00,291.40 C577.42,290.10 580.90,287.57 585.00,286.50 C589.01,285.46 593.36,284.77 597.30,285.00 C601.01,285.22 604.08,287.21 608.00,287.60 C612.64,288.06 617.95,286.66 623.40,287.00 C629.65,287.39 637.18,290.26 643.40,290.30 C648.84,290.34 653.02,288.42 658.70,288.00 C665.76,287.47 674.63,288.00 682.60,288.00" fill="none" stroke="#F08CD4" stroke-width="1.3" stroke-linejoin="round" stroke-linecap="round" />
<path d="M492.60,250.90 C499.50,261.20 507.48,273.38 513.30,281.80 C517.40,287.73 520.08,292.92 524.00,296.80 C527.28,300.05 530.58,302.29 534.60,304.20 C539.01,306.30 544.45,308.56 549.60,308.50 C555.10,308.44 561.07,306.08 566.60,303.20 C572.91,299.91 578.97,292.83 585.00,289.00 C590.21,285.69 595.26,282.64 600.40,281.10 C605.00,279.72 609.39,279.33 614.20,279.60 C619.57,279.90 625.05,281.91 631.10,283.40 C638.19,285.15 645.96,288.08 654.10,289.60 C663.03,291.26 673.10,291.60 682.60,292.60" fill="none" stroke="#A899E8" stroke-width="1.3" stroke-linejoin="round" stroke-linecap="round" />
<path d="M492.60,243.90 C499.50,253.70 507.69,264.48 513.30,273.30 C517.64,280.12 520.22,286.43 524.00,292.00 C527.36,296.95 531.10,301.67 534.60,305.30 C537.42,308.22 540.02,310.69 543.00,312.50 C545.75,314.17 548.43,315.56 551.70,316.00 C555.61,316.53 560.79,315.89 565.00,314.50 C569.34,313.07 573.27,310.67 577.30,307.40 C582.31,303.33 587.76,295.63 592.00,291.00 C595.17,287.53 596.62,284.47 600.40,282.00 C605.35,278.76 613.74,275.31 620.30,275.00 C626.53,274.71 632.35,277.63 638.80,279.60 C646.11,281.84 654.25,285.80 661.80,288.00 C668.84,290.05 675.67,291.07 682.60,292.60" fill="none" stroke="#4A9EEA" stroke-width="1.3" stroke-linejoin="round" stroke-linecap="round" />
<path d="M492.60,239.20 C499.50,248.80 507.79,258.96 513.30,268.00 C517.79,275.37 520.26,282.53 524.00,289.00 C527.39,294.87 530.90,300.31 534.60,305.30 C538.02,309.91 541.39,314.91 545.30,318.00 C548.62,320.63 552.82,322.35 556.00,323.40 C558.34,324.17 559.92,324.94 562.40,324.50 C566.44,323.79 572.77,320.16 577.30,316.00 C582.87,310.88 587.63,300.22 592.00,294.60 C595.06,290.66 596.98,288.14 600.40,285.00 C604.57,281.17 610.63,275.99 615.70,273.80 C619.82,272.02 623.58,271.40 628.00,271.50 C633.22,271.62 639.19,273.59 645.00,275.50 C651.46,277.62 658.47,281.19 664.90,284.00 C670.98,286.66 676.70,289.27 682.60,291.90" fill="none" stroke="#5DAA8C" stroke-width="1.3" stroke-linejoin="round" stroke-linecap="round" />
<path d="M492.60,235.00 C495.97,239.00 499.50,242.38 502.70,247.00 C506.46,252.42 509.89,259.13 513.30,265.80 C517.01,273.06 520.34,281.58 524.00,289.00 C527.45,296.01 530.78,303.25 534.60,309.20 C537.94,314.40 541.33,319.71 545.30,323.00 C548.59,325.73 552.80,327.67 556.00,328.50 C558.33,329.10 559.94,329.36 562.40,328.70 C566.47,327.61 572.65,323.51 577.30,319.50 C582.61,314.93 587.97,307.76 592.00,302.10 C595.42,297.30 596.81,292.51 600.40,288.00 C604.48,282.88 610.00,276.37 615.70,273.40 C620.85,270.72 626.98,269.87 632.60,270.00 C638.25,270.13 644.14,272.05 649.50,274.20 C654.91,276.37 659.60,279.93 664.90,283.00 C670.60,286.31 676.70,289.93 682.60,293.40" fill="none" stroke="#F0A060" stroke-width="1.3" stroke-linejoin="round" stroke-linecap="round" />
<path d="M492.60,233.20 C495.97,237.33 499.49,240.85 502.70,245.60 C506.45,251.16 509.88,258.02 513.30,264.80 C517.00,272.15 520.38,280.60 524.00,288.20 C527.49,295.52 530.78,303.25 534.60,309.60 C537.95,315.17 541.32,320.84 545.30,324.50 C548.58,327.52 552.78,329.90 556.00,330.90 C558.31,331.62 559.93,331.90 562.40,331.30 C566.46,330.30 572.64,326.23 577.30,322.30 C582.60,317.83 587.95,310.78 592.00,305.30 C595.40,300.70 596.94,296.47 600.40,291.90 C604.55,286.41 609.80,278.92 615.70,275.00 C621.18,271.36 628.29,268.71 634.20,268.50 C639.51,268.31 644.55,270.49 649.50,272.70 C654.81,275.07 659.60,279.16 664.90,282.60 C670.60,286.30 676.70,290.33 682.60,294.20" fill="none" stroke="#EF5F4C" stroke-width="1.3" stroke-linejoin="round" stroke-linecap="round" />
<line x1="542.5" y1="294.2" x2="560.2" y2="331.3" stroke="#FF1A1A" stroke-width="1.5" stroke-dasharray="3.5,2.5"/>
<line x1="618.50" y1="301.10" x2="638.50" y2="301.10" stroke="#F27062" stroke-width="1.15" />
<text x="640.30" y="304.00" font-size="8.0" text-anchor="start" fill="#222" font-weight="normal" stroke="#222" stroke-width="0.06" >2 K</text>
<line x1="618.50" y1="311.54" x2="638.50" y2="311.54" stroke="#F4B07A" stroke-width="1.15" />
<text x="640.30" y="314.44" font-size="8.0" text-anchor="start" fill="#222" font-weight="normal" stroke="#222" stroke-width="0.06" >6 K</text>
<line x1="618.50" y1="321.98" x2="638.50" y2="321.98" stroke="#8CC8B0" stroke-width="1.15" />
<text x="640.30" y="324.88" font-size="8.0" text-anchor="start" fill="#222" font-weight="normal" stroke="#222" stroke-width="0.06" >10 K</text>
<line x1="618.50" y1="332.42" x2="638.50" y2="332.42" stroke="#64A8F0" stroke-width="1.15" />
<text x="640.30" y="335.32" font-size="8.0" text-anchor="start" fill="#222" font-weight="normal" stroke="#222" stroke-width="0.06" >15 K</text>
<line x1="618.50" y1="342.86" x2="638.50" y2="342.86" stroke="#B4A4F0" stroke-width="1.15" />
<text x="640.30" y="345.76" font-size="8.0" text-anchor="start" fill="#222" font-weight="normal" stroke="#222" stroke-width="0.06" >20 K</text>
<line x1="618.50" y1="353.30" x2="638.50" y2="353.30" stroke="#F4A0DC" stroke-width="1.15" />
<text x="640.30" y="356.20" font-size="8.0" text-anchor="start" fill="#222" font-weight="normal" stroke="#222" stroke-width="0.06" >30 K</text>
<rect x="531.10" y="220.60" width="66.50" height="53.60" fill="#fff"/>
<line x1="531.10" y1="220.60" x2="597.60" y2="220.60" stroke="#666" stroke-width="1.0" />
<line x1="597.60" y1="220.60" x2="597.60" y2="274.20" stroke="#444" stroke-width="1.0" />
<line x1="531.10" y1="274.20" x2="597.60" y2="274.20" stroke="#444" stroke-width="1.0" />
<line x1="531.10" y1="220.60" x2="531.10" y2="274.20" stroke="#555" stroke-width="1.0" />
<line x1="531.10" y1="274.20" x2="531.10" y2="272.20" stroke="#444" stroke-width="0.8" />
<text x="531.10" y="283.20" font-size="6.8" text-anchor="middle" fill="#222" font-weight="normal" stroke="#222" stroke-width="0.02" >0</text>
<line x1="546.20" y1="274.20" x2="546.20" y2="272.20" stroke="#444" stroke-width="0.8" />
<text x="546.20" y="283.20" font-size="6.8" text-anchor="middle" fill="#222" font-weight="normal" stroke="#222" stroke-width="0.02" >5</text>
<line x1="561.30" y1="274.20" x2="561.30" y2="272.20" stroke="#444" stroke-width="0.8" />
<text x="561.30" y="283.20" font-size="6.8" text-anchor="middle" fill="#222" font-weight="normal" stroke="#222" stroke-width="0.02" >10</text>
<line x1="576.40" y1="274.20" x2="576.40" y2="272.20" stroke="#444" stroke-width="0.8" />
<text x="576.40" y="283.20" font-size="6.8" text-anchor="middle" fill="#222" font-weight="normal" stroke="#222" stroke-width="0.02" >15</text>
<line x1="591.50" y1="274.20" x2="591.50" y2="272.20" stroke="#444" stroke-width="0.8" />
<text x="591.50" y="283.20" font-size="6.8" text-anchor="middle" fill="#222" font-weight="normal" stroke="#222" stroke-width="0.02" >20</text>
<line x1="531.10" y1="235.30" x2="533.10" y2="235.30" stroke="#444" stroke-width="0.8" />
<line x1="531.10" y1="255.40" x2="533.10" y2="255.40" stroke="#444" stroke-width="0.8" />
<text x="563.40" y="290.30" font-size="6.8" text-anchor="middle" fill="#222" font-weight="normal" stroke="#222" stroke-width="0.02" ><tspan font-style="italic">T</tspan> (K)</text>
<text x="0" y="0" font-size="6.8" text-anchor="middle" dominant-baseline="central" fill="#222" stroke="#222" stroke-width="0.02" transform="translate(523.80,247.20) rotate(-90)">FFT Amplitude (a.u.)</text>
<path d="M535.5,226.8 536.5,226.9 537.5,227.0 538.5,227.1 539.5,227.2 540.5,227.4 541.5,227.5 542.5,227.7 543.5,227.9 544.5,228.2 545.5,228.5 546.5,228.8 547.5,229.2 548.5,229.7 549.5,230.2 550.5,230.8 551.5,231.4 552.5,232.1 553.5,232.8 554.5,233.6 555.5,234.4 556.5,235.3 557.5,236.1 558.5,237.0 559.5,237.9 560.5,238.8 561.5,239.7 562.5,240.6 563.5,241.5 564.5,242.4 565.5,243.3 566.5,244.2 567.5,245.1 568.5,246.0 569.5,246.9 570.5,247.8 571.5,248.7 572.5,249.6 573.5,250.5 574.5,251.5 575.5,252.4 576.5,253.3 577.5,254.2 578.5,255.2 579.5,256.1 580.5,257.0 581.5,258.0 582.5,258.9 583.5,259.9 584.5,260.8 585.5,261.8 586.5,262.7 587.5,263.7 588.5,264.6 589.5,265.6 590.5,266.5 591.5,267.5" fill="none" stroke="#F8643C" stroke-width="1.5"/>
<path d="M537.00,224.60 L540.50,228.10 L537.00,231.60 L533.50,228.10 Z" fill="#7060F4"/>
<path d="M548.70,227.70 L552.20,231.20 L548.70,234.70 L545.20,231.20 Z" fill="#7060F4"/>
<path d="M561.60,236.80 L565.10,240.30 L561.60,243.80 L558.10,240.30 Z" fill="#7060F4"/>
<path d="M576.30,250.10 L579.80,253.60 L576.30,257.10 L572.80,253.60 Z" fill="#7060F4"/>
<path d="M591.30,264.60 L594.80,268.10 L591.30,271.60 L587.80,268.10 Z" fill="#7060F4"/>
<line x1="35.10" y1="412.60" x2="221.50" y2="412.60" stroke="#6a6a6a" stroke-width="1.3" />
<line x1="221.50" y1="412.60" x2="221.50" y2="554.00" stroke="#555" stroke-width="1.2" />
<line x1="35.10" y1="554.00" x2="221.50" y2="554.00" stroke="#5a5a5a" stroke-width="1.3" />
<line x1="35.10" y1="412.60" x2="35.10" y2="554.00" stroke="#a6a6a6" stroke-width="1.7" />
<line x1="35.10" y1="554.00" x2="35.10" y2="551.50" stroke="#555" stroke-width="1" />
<text x="35.10" y="565.30" font-size="10.5" text-anchor="middle" fill="#222" font-weight="normal" stroke="#222" stroke-width="0.14" >0</text>
<line x1="94.82" y1="554.00" x2="94.82" y2="551.50" stroke="#555" stroke-width="1" />
<text x="94.82" y="565.30" font-size="10.5" text-anchor="middle" fill="#222" font-weight="normal" stroke="#222" stroke-width="0.14" >4</text>
<line x1="154.54" y1="554.00" x2="154.54" y2="551.50" stroke="#555" stroke-width="1" />
<text x="154.54" y="565.30" font-size="10.5" text-anchor="middle" fill="#222" font-weight="normal" stroke="#222" stroke-width="0.14" >8</text>
<line x1="214.26" y1="554.00" x2="214.26" y2="551.50" stroke="#555" stroke-width="1" />
<text x="214.26" y="565.30" font-size="10.5" text-anchor="middle" fill="#222" font-weight="normal" stroke="#222" stroke-width="0.14" >12</text>
<line x1="35.10" y1="418.40" x2="37.60" y2="418.40" stroke="#555" stroke-width="1" />
<text x="32.30" y="422.10" font-size="10.5" text-anchor="end" fill="#222" font-weight="normal" stroke="#222" stroke-width="0.14" >1.0</text>
<line x1="35.10" y1="450.70" x2="37.60" y2="450.70" stroke="#555" stroke-width="1" />
<text x="32.30" y="454.40" font-size="10.5" text-anchor="end" fill="#222" font-weight="normal" stroke="#222" stroke-width="0.14" >0.5</text>
<line x1="35.10" y1="483.00" x2="37.60" y2="483.00" stroke="#555" stroke-width="1" />
<text x="32.30" y="486.70" font-size="10.5" text-anchor="end" fill="#222" font-weight="normal" stroke="#222" stroke-width="0.14" >0.0</text>
<line x1="35.10" y1="515.30" x2="37.60" y2="515.30" stroke="#555" stroke-width="1" />
<text x="32.30" y="519.00" font-size="10.5" text-anchor="end" fill="#222" font-weight="normal" stroke="#222" stroke-width="0.14" >-0.5</text>
<line x1="35.10" y1="547.60" x2="37.60" y2="547.60" stroke="#555" stroke-width="1" />
<text x="32.30" y="551.30" font-size="10.5" text-anchor="end" fill="#222" font-weight="normal" stroke="#222" stroke-width="0.14" >-1.0</text>
<text x="21.40" y="407.20" font-size="14.5" text-anchor="middle" fill="#000" font-weight="bold" >e</text>
<text x="128.40" y="583.00" font-size="10.8" text-anchor="middle" fill="#222" font-weight="normal" stroke="#222" stroke-width="0.14" ><tspan font-style="italic">μ</tspan><tspan font-size="7.5" dy="2.2">0</tspan><tspan dy="-2.2"><tspan font-style="italic">H</tspan> (T)</tspan></text>
<text x="0" y="0" font-size="10.8" text-anchor="middle" dominant-baseline="central" fill="#222" stroke="#222" stroke-width="0.14" transform="translate(4.90,484.60) rotate(-90)"><tspan font-style="italic">ρ</tspan><tspan font-size="7.5" dy="2.2">AHE</tspan><tspan dy="-2.2"> (mΩ·cm)</tspan></text>
<path d="M35.10,483.00 C40.07,480.67 44.92,478.32 50.00,476.00 C55.27,473.59 60.19,472.02 66.20,468.80 C74.45,464.38 85.26,455.51 94.40,450.90 C102.26,446.93 110.40,444.10 117.40,442.00 C123.03,440.31 127.29,439.60 133.00,438.60 C139.84,437.41 147.63,436.14 155.70,435.60 C164.83,434.98 175.22,435.58 185.00,435.50 C194.82,435.42 204.67,435.23 214.50,435.10" fill="none" stroke="#D6D690" stroke-width="1.3" stroke-linejoin="round"/>
<path d="M35.10,483.00 C47.20,482.10 59.23,482.35 71.40,480.30 C84.09,478.16 98.55,473.40 109.70,470.10 C118.47,467.50 125.76,464.75 133.00,462.50 C139.26,460.55 143.73,458.43 150.60,457.30 C159.85,455.78 172.95,455.98 183.80,456.00 C194.23,456.02 204.27,456.87 214.50,457.30" fill="none" stroke="#A6CEA2" stroke-width="1.3" stroke-linejoin="round"/>
<path d="M35.10,483.00 C47.20,482.80 59.17,483.36 71.40,482.40 C84.03,481.41 98.53,478.89 109.70,477.00 C118.45,475.52 125.75,473.48 133.00,472.40 C139.25,471.46 142.89,471.02 150.60,470.60 C165.25,469.80 193.20,470.27 214.50,470.10" fill="none" stroke="#6EC2C0" stroke-width="1.3" stroke-linejoin="round"/>
<path d="M35.10,483.00 C40.07,482.60 45.30,482.22 50.00,481.80 C54.22,481.42 58.40,480.78 62.00,480.60 C64.93,480.45 67.93,480.07 70.00,480.60 C71.46,480.97 72.33,481.87 73.50,482.50 C74.67,484.17 75.37,485.36 77.00,487.50 C80.18,491.69 86.33,500.07 91.80,505.50 C97.24,510.90 103.76,516.18 109.70,520.00 C114.82,523.29 120.25,525.70 125.00,527.60 C128.90,529.16 132.08,531.01 136.00,531.00 C140.52,530.99 144.98,527.24 150.60,526.40 C157.87,525.31 166.81,526.51 176.20,526.60 C187.69,526.70 201.73,526.87 214.50,527.00" fill="none" stroke="#F8D480" stroke-width="1.3" stroke-linejoin="round"/>
<path d="M35.10,483.00 C45.80,487.27 61.13,493.56 67.20,495.80 C69.57,496.68 69.87,496.63 72.20,497.50 C77.83,499.61 90.62,506.68 100.70,509.20 C111.26,511.84 122.00,511.90 134.30,512.60 C149.19,513.44 167.30,513.00 183.80,513.20" fill="none" stroke="#F8B080" stroke-width="1.3" stroke-linejoin="round"/>
<path d="M35.10,483.00 C43.07,490.00 51.43,497.17 59.00,504.00 C66.01,510.32 75.06,518.66 79.00,522.50 C80.72,524.17 81.55,526.05 82.60,526.20 C83.26,526.30 83.80,525.53 84.40,525.20 L85.60,493.50 L87.00,491.80 C94.00,492.07 100.92,492.63 108.00,492.60 C115.25,492.57 124.18,492.22 130.00,491.60 C133.87,491.19 136.49,490.68 139.60,490.00 C142.61,489.34 144.82,488.12 148.40,487.60 C153.75,486.82 160.72,487.23 168.80,487.10 C180.64,486.91 207.58,487.47 212.60,486.80 C213.66,486.66 213.87,486.47 214.50,486.30" fill="none" stroke="#F28A6A" stroke-width="1.3" stroke-linejoin="round"/>
<path d="M35.10,483.30 C42.37,484.10 49.88,484.91 56.90,485.70 C63.45,486.44 70.78,487.49 75.90,487.90 C79.35,488.18 81.70,488.17 84.60,488.30 L86.80,485.40 C102.87,485.27 122.57,485.05 135.00,485.00 C142.85,484.97 146.02,485.00 154.20,485.00 C168.70,485.00 194.40,485.00 214.50,485.00" fill="none" stroke="#F07262" stroke-width="1.3" stroke-linejoin="round"/>
<path d="M35.10,483.00 C51.47,483.13 67.86,483.80 84.20,483.40 C100.50,483.00 120.79,481.30 133.00,480.60 C140.33,480.18 142.90,479.82 150.60,479.60 C165.26,479.18 193.20,479.60 214.50,479.60" fill="none" stroke="#42B8E0" stroke-width="1.3" stroke-linejoin="round"/>
<line x1="259.70" y1="412.40" x2="446.50" y2="412.40" stroke="#6a6a6a" stroke-width="1.3" />
<line x1="446.50" y1="412.40" x2="446.50" y2="553.30" stroke="#555" stroke-width="1.2" />
<line x1="259.70" y1="553.30" x2="446.50" y2="553.30" stroke="#5a5a5a" stroke-width="1.3" />
<line x1="259.70" y1="412.40" x2="259.70" y2="553.30" stroke="#a6a6a6" stroke-width="1.7" />
<line x1="259.80" y1="553.30" x2="259.80" y2="550.80" stroke="#555" stroke-width="1" />
<text x="259.80" y="565.30" font-size="10.5" text-anchor="middle" fill="#222" font-weight="normal" stroke="#222" stroke-width="0.14" >0</text>
<line x1="319.40" y1="553.30" x2="319.40" y2="550.80" stroke="#555" stroke-width="1" />
<text x="319.40" y="565.30" font-size="10.5" text-anchor="middle" fill="#222" font-weight="normal" stroke="#222" stroke-width="0.14" >4</text>
<line x1="379.00" y1="553.30" x2="379.00" y2="550.80" stroke="#555" stroke-width="1" />
<text x="379.00" y="565.30" font-size="10.5" text-anchor="middle" fill="#222" font-weight="normal" stroke="#222" stroke-width="0.14" >8</text>
<line x1="438.60" y1="553.30" x2="438.60" y2="550.80" stroke="#555" stroke-width="1" />
<text x="438.60" y="565.30" font-size="10.5" text-anchor="middle" fill="#222" font-weight="normal" stroke="#222" stroke-width="0.14" >12</text>
<line x1="259.70" y1="441.26" x2="262.20" y2="441.26" stroke="#555" stroke-width="1" />
<text x="256.80" y="444.96" font-size="10.5" text-anchor="end" fill="#222" font-weight="normal" stroke="#222" stroke-width="0.14" >200</text>
<line x1="259.70" y1="473.33" x2="262.20" y2="473.33" stroke="#555" stroke-width="1" />
<text x="256.80" y="477.03" font-size="10.5" text-anchor="end" fill="#222" font-weight="normal" stroke="#222" stroke-width="0.14" >100</text>
<line x1="259.70" y1="505.40" x2="262.20" y2="505.40" stroke="#555" stroke-width="1" />
<text x="256.80" y="509.10" font-size="10.5" text-anchor="end" fill="#222" font-weight="normal" stroke="#222" stroke-width="0.14" >0</text>
<line x1="259.70" y1="537.47" x2="262.20" y2="537.47" stroke="#555" stroke-width="1" />
<text x="256.80" y="541.17" font-size="10.5" text-anchor="end" fill="#222" font-weight="normal" stroke="#222" stroke-width="0.14" >-100</text>
<text x="245.00" y="407.20" font-size="14.5" text-anchor="middle" fill="#000" font-weight="bold" >f</text>
<text x="353.00" y="583.00" font-size="10.8" text-anchor="middle" fill="#222" font-weight="normal" stroke="#222" stroke-width="0.14" ><tspan font-style="italic">μ</tspan><tspan font-size="7.5" dy="2.2">0</tspan><tspan dy="-2.2"><tspan font-style="italic">H</tspan> (T)</tspan></text>
<text x="0" y="0" font-size="10.8" text-anchor="middle" dominant-baseline="central" fill="#222" stroke="#222" stroke-width="0.14" transform="translate(231.70,483.20) rotate(-90)"><tspan font-style="italic">σ</tspan><tspan font-size="7.5" dy="2.2">AHE</tspan><tspan dy="-2.2"> (Ω<tspan font-size="7.5" dy="-4.2">-1</tspan><tspan dy="4.2">·cm<tspan font-size="7.5" dy="-4.2">-1</tspan><tspan dy="4.2">)</tspan></tspan></tspan></text>
<path d="M259.80,505.40 C263.10,507.77 266.35,510.22 269.70,512.50 C273.05,514.78 276.07,517.23 279.90,519.10 C284.22,521.21 289.85,523.04 294.50,524.20 C298.57,525.21 302.18,525.86 306.20,526.00 C310.43,526.15 314.44,525.41 319.30,524.90 C325.42,524.26 332.43,523.31 340.00,522.30 C349.23,521.07 360.47,519.35 370.70,518.00 C380.90,516.65 390.56,515.19 401.30,514.20 C413.17,513.10 426.37,512.67 438.90,511.90" fill="none" stroke="#D8D8A0" stroke-width="1.3" stroke-linejoin="round"/>
<path d="M259.80,505.40 C264.07,507.27 267.70,509.20 272.60,511.00 C278.87,513.31 289.22,515.49 294.50,517.60 C297.66,518.86 298.96,519.80 301.80,521.30 C305.85,523.43 311.42,527.21 316.40,529.30 C321.16,531.30 326.10,532.56 331.00,533.70 C335.83,534.82 341.66,535.69 345.60,536.10 C348.25,536.38 349.81,536.48 352.30,536.40 C355.45,536.29 359.49,536.07 363.00,535.20 C366.63,534.30 369.96,532.07 373.70,531.00 C377.61,529.88 380.44,529.46 386.00,528.70 C397.45,527.14 421.27,525.63 438.90,524.10" fill="none" stroke="#A6CEA6" stroke-width="1.3" stroke-linejoin="round"/>
<path d="M259.80,505.40 C264.07,506.30 267.68,507.19 272.60,508.10 C279.22,509.32 289.36,510.37 296.00,511.80 C301.03,512.89 304.66,513.90 309.10,515.40 C313.88,517.02 318.68,519.38 323.70,521.30 C328.97,523.32 334.60,525.61 340.00,527.20 C345.13,528.71 350.62,529.93 355.30,530.70 C359.19,531.34 362.40,531.96 366.10,531.80 C370.05,531.63 373.29,530.22 378.30,529.50 C386.19,528.36 398.83,527.42 409.00,526.40 C419.03,525.39 428.93,524.40 438.90,523.40" fill="none" stroke="#66BEB8" stroke-width="1.3" stroke-linejoin="round"/>
<path d="M259.80,505.40 C271.37,505.13 285.41,504.27 294.50,504.60 C300.41,504.81 304.14,505.36 309.10,506.00 C314.30,506.67 319.78,507.72 325.00,508.60 C330.07,509.45 334.99,510.16 340.00,511.20 C345.09,512.26 350.65,513.67 355.30,514.90 C359.22,515.94 362.79,517.29 366.10,518.00 C368.83,518.59 370.37,518.85 373.70,519.10 C380.02,519.57 391.39,519.45 401.30,519.20 C412.87,518.91 426.37,517.87 438.90,517.20" fill="none" stroke="#42B6DC" stroke-width="1.3" stroke-linejoin="round"/>
<path d="M259.80,505.40 C273.80,505.33 290.08,506.00 301.80,505.20 C310.30,504.62 316.96,503.51 323.70,502.30 C329.56,501.25 334.37,500.14 340.00,498.60 C346.20,496.90 353.53,494.75 359.30,492.40 C364.26,490.38 369.09,488.07 372.70,485.70 C375.48,483.88 377.23,481.90 379.50,480.00 C386.33,481.17 392.04,482.16 400.00,483.50 C411.10,485.37 426.60,487.90 439.90,490.10" fill="none" stroke="#FAD488" stroke-width="1.3" stroke-linejoin="round"/>
<path d="M259.80,505.00 C266.53,504.00 273.56,503.01 280.00,502.00 C285.91,501.07 292.22,501.24 297.00,499.20 C301.18,497.41 304.64,493.26 307.50,491.30 C309.38,490.01 310.10,489.23 312.30,488.30 C316.25,486.64 323.88,484.92 330.00,484.00 C336.42,483.04 343.35,482.54 350.00,482.80 C356.68,483.06 361.66,484.70 370.00,485.60 C383.83,487.09 413.20,487.09 425.30,489.80 C431.50,491.19 434.37,493.27 438.90,495.00" fill="none" stroke="#F8A870" stroke-width="1.3" stroke-linejoin="round"/>
<path d="M259.80,505.40 C263.87,502.43 267.71,499.17 272.00,496.50 C276.34,493.80 281.25,491.61 285.70,489.30 C289.90,487.12 293.87,484.87 298.00,483.00 C302.01,481.18 306.07,479.80 310.10,478.20 L312.30,488.30 C318.20,487.53 323.47,486.58 330.00,486.00 C338.04,485.29 349.37,483.82 357.00,484.70 C362.79,485.37 365.14,487.63 372.00,489.00 C386.26,491.84 416.60,494.13 438.90,496.70" fill="none" stroke="#EF6655" stroke-width="1.3" stroke-linejoin="round"/>
<path d="M259.80,505.40 C261.53,500.43 263.01,495.43 265.00,490.50 C267.03,485.46 269.08,481.08 271.90,475.50 C275.61,468.17 280.79,457.98 285.70,450.50 C290.08,443.82 296.10,435.77 299.60,432.50 C301.25,430.96 302.36,430.36 303.80,429.70 C305.10,429.11 306.47,428.97 307.80,428.60 L308.60,428.40 L311.20,484.20 C317.47,482.63 323.46,480.81 330.00,479.50 C336.99,478.10 345.69,475.96 351.90,476.20 C356.55,476.38 360.85,477.25 364.00,479.00 C366.60,480.44 367.55,483.38 370.00,485.00 C372.76,486.82 375.16,487.81 380.00,489.00 C391.35,491.79 419.27,493.00 438.90,495.00" fill="none" stroke="#F59474" stroke-width="1.3" stroke-linejoin="round"/>
<text x="381.40" y="422.60" font-size="8.0" text-anchor="middle" fill="#222" font-weight="normal" stroke="#222" stroke-width="0.06" ><tspan font-style="italic">n</tspan> = (×10<tspan font-size="6.0" dy="-3.3">18</tspan><tspan dy="3.3"> cm<tspan font-size="6.0" dy="-3.3">-3</tspan><tspan dy="3.3">)</tspan></tspan></text>
<line x1="350.80" y1="432.80" x2="370.50" y2="432.80" stroke="#F07060" stroke-width="1.3" />
<text x="374.60" y="435.60" font-size="8.0" text-anchor="start" fill="#222" font-weight="normal" stroke="#222" stroke-width="0.06" >-10.9</text>
<line x1="400.20" y1="432.80" x2="419.70" y2="432.80" stroke="#D0D098" stroke-width="1.3" />
<text x="424.00" y="435.60" font-size="8.0" text-anchor="start" fill="#222" font-weight="normal" stroke="#222" stroke-width="0.06" >1.6</text>
<line x1="350.80" y1="443.27" x2="370.50" y2="443.27" stroke="#F59474" stroke-width="1.3" />
<text x="374.60" y="446.07" font-size="8.0" text-anchor="start" fill="#222" font-weight="normal" stroke="#222" stroke-width="0.06" >-9.1</text>
<line x1="400.20" y1="443.27" x2="419.70" y2="443.27" stroke="#A8D0A8" stroke-width="1.3" />
<text x="424.00" y="446.07" font-size="8.0" text-anchor="start" fill="#222" font-weight="normal" stroke="#222" stroke-width="0.06" >6.6</text>
<line x1="350.80" y1="453.74" x2="370.50" y2="453.74" stroke="#F8B070" stroke-width="1.3" />
<text x="374.60" y="456.54" font-size="8.0" text-anchor="start" fill="#222" font-weight="normal" stroke="#222" stroke-width="0.06" >-3.9</text>
<line x1="400.20" y1="453.74" x2="419.70" y2="453.74" stroke="#60B8B0" stroke-width="1.3" />
<text x="424.00" y="456.54" font-size="8.0" text-anchor="start" fill="#222" font-weight="normal" stroke="#222" stroke-width="0.06" >8.0</text>
<line x1="350.80" y1="464.21" x2="370.50" y2="464.21" stroke="#FAD88A" stroke-width="1.3" />
<text x="374.60" y="467.01" font-size="8.0" text-anchor="start" fill="#222" font-weight="normal" stroke="#222" stroke-width="0.06" >-3.2</text>
<line x1="400.20" y1="464.21" x2="419.70" y2="464.21" stroke="#50B8D8" stroke-width="1.3" />
<text x="424.00" y="467.01" font-size="8.0" text-anchor="start" fill="#222" font-weight="normal" stroke="#222" stroke-width="0.06" >19.7</text>
<line x1="492.90" y1="412.40" x2="682.80" y2="412.40" stroke="#444" stroke-width="1.2" />
<line x1="682.80" y1="412.40" x2="682.80" y2="553.50" stroke="#444" stroke-width="1.2" />
<line x1="492.90" y1="553.50" x2="682.80" y2="553.50" stroke="#333" stroke-width="1.2" />
<line x1="492.90" y1="412.40" x2="492.90" y2="553.50" stroke="#333" stroke-width="1.2" />
<line x1="516.40" y1="553.50" x2="516.40" y2="551.00" stroke="#333" stroke-width="1" />
<text x="516.40" y="565.30" font-size="10.5" text-anchor="middle" fill="#222" font-weight="normal" stroke="#222" stroke-width="0.14" >-10</text>
<line x1="541.85" y1="553.50" x2="541.85" y2="551.00" stroke="#333" stroke-width="1" />
<text x="541.85" y="565.30" font-size="10.5" text-anchor="middle" fill="#222" font-weight="normal" stroke="#222" stroke-width="0.14" >-5</text>
<line x1="567.30" y1="553.50" x2="567.30" y2="551.00" stroke="#333" stroke-width="1" />
<text x="567.30" y="565.30" font-size="10.5" text-anchor="middle" fill="#222" font-weight="normal" stroke="#222" stroke-width="0.14" >0</text>
<line x1="592.75" y1="553.50" x2="592.75" y2="551.00" stroke="#333" stroke-width="1" />
<text x="592.75" y="565.30" font-size="10.5" text-anchor="middle" fill="#222" font-weight="normal" stroke="#222" stroke-width="0.14" >5</text>
<line x1="618.20" y1="553.50" x2="618.20" y2="551.00" stroke="#333" stroke-width="1" />
<text x="618.20" y="565.30" font-size="10.5" text-anchor="middle" fill="#222" font-weight="normal" stroke="#222" stroke-width="0.14" >10</text>
<line x1="643.65" y1="553.50" x2="643.65" y2="551.00" stroke="#333" stroke-width="1" />
<text x="643.65" y="565.30" font-size="10.5" text-anchor="middle" fill="#222" font-weight="normal" stroke="#222" stroke-width="0.14" >15</text>
<line x1="669.10" y1="553.50" x2="669.10" y2="551.00" stroke="#333" stroke-width="1" />
<text x="669.10" y="565.30" font-size="10.5" text-anchor="middle" fill="#222" font-weight="normal" stroke="#222" stroke-width="0.14" >20</text>
<line x1="492.90" y1="432.30" x2="495.40" y2="432.30" stroke="#333" stroke-width="1" />
<text x="489.90" y="436.00" font-size="10.5" text-anchor="end" fill="#222" font-weight="normal" stroke="#222" stroke-width="0.14" >0.2</text>
<line x1="492.90" y1="472.80" x2="495.40" y2="472.80" stroke="#333" stroke-width="1" />
<text x="489.90" y="476.50" font-size="10.5" text-anchor="end" fill="#222" font-weight="normal" stroke="#222" stroke-width="0.14" >0.0</text>
<line x1="492.90" y1="513.30" x2="495.40" y2="513.30" stroke="#333" stroke-width="1" />
<text x="489.90" y="517.00" font-size="10.5" text-anchor="end" fill="#222" font-weight="normal" stroke="#222" stroke-width="0.14" >-0.2</text>
<line x1="492.90" y1="553.80" x2="495.40" y2="553.80" stroke="#333" stroke-width="1" />
<text x="489.90" y="557.50" font-size="10.5" text-anchor="end" fill="#222" font-weight="normal" stroke="#222" stroke-width="0.14" >-0.4</text>
<text x="472.60" y="406.60" font-size="14.5" text-anchor="middle" fill="#000" font-weight="bold" >g</text>
<text x="588.50" y="583.00" font-size="10.8" text-anchor="middle" fill="#222" font-weight="normal" stroke="#222" stroke-width="0.14" ><tspan font-style="italic">n</tspan> (×10<tspan font-size="7.5" dy="-4.2">18</tspan><tspan dy="4.2"> cm<tspan font-size="7.5" dy="-4.2">-3</tspan><tspan dy="4.2">)</tspan></tspan></text>
<text x="0" y="0" font-size="10.8" text-anchor="middle" dominant-baseline="central" fill="#222" stroke="#222" stroke-width="0.14" transform="translate(463.60,482.40) rotate(-90)"><tspan font-style="italic" font-size="10">Θ</tspan><tspan font-size="7.5" dy="2.8">AHE</tspan><tspan dy="-2.8"></tspan></text>
<line x1="492.90" y1="473.20" x2="682.80" y2="473.20" stroke="#A6E4E8" stroke-width="1.1" stroke-dasharray="4,3"/>
<line x1="567.30" y1="412.40" x2="567.30" y2="553.50" stroke="#E6E6A6" stroke-width="1.0" stroke-dasharray="3,2.5"/>
<path d="M511.4,482.3 512.4,482.9 513.4,483.5 514.4,484.1 515.4,484.8 516.4,485.4 517.4,486.1 518.4,486.7 519.4,487.5 520.4,488.2 521.4,489.0 522.4,489.8 523.4,490.6 524.4,491.5 525.5,492.5 526.5,493.4 527.5,494.4 528.5,495.5 529.5,496.5 530.5,497.7 531.5,498.8 532.5,500.0 533.5,501.2 534.5,502.5 535.5,503.8 536.5,505.1 537.5,506.4 538.5,507.7 539.5,509.0 540.5,510.4 541.5,511.8 542.5,513.3 543.5,515.1 544.5,517.0 545.5,519.3 546.5,521.8 547.5,524.2 548.5,526.1 549.5,527.2 550.5,527.0 551.6,525.8 552.6,523.6 553.6,520.6 554.6,517.0 555.6,512.9 556.6,508.5 557.6,504.1 558.6,499.8 559.6,495.8 560.6,492.0 561.6,488.5 562.6,485.1 563.6,481.8 564.6,478.6 565.6,475.5 566.6,472.3 567.6,469.1 568.6,465.6 569.6,462.2 570.6,458.8 571.6,455.6 572.6,452.6 573.6,449.8 574.6,447.3 575.6,445.0 576.6,442.9 577.7,441.0 578.7,439.4 579.7,438.0 580.7,436.8 581.7,435.8 582.7,434.9 583.7,434.1 584.7,433.3 585.7,432.7 586.7,432.1 587.7,431.6 588.7,431.3 589.7,431.0 590.7,430.9 591.7,430.8 592.7,430.9 593.7,431.1 594.7,431.5 595.7,431.9 596.7,432.4 597.7,433.0 598.7,433.6 599.7,434.3 600.7,435.1 601.7,435.9 602.8,436.7 603.8,437.5 604.8,438.3 605.8,439.1 606.8,439.9 607.8,440.6 608.8,441.4 609.8,442.1 610.8,442.8 611.8,443.4 612.8,444.1 613.8,444.7 614.8,445.3 615.8,445.8 616.8,446.4 617.8,446.9 618.8,447.4 619.8,447.9 620.8,448.4 621.8,448.8 622.8,449.3 623.8,449.7 624.8,450.1 625.8,450.5 626.8,450.9 627.8,451.3 628.9,451.7 629.9,452.0 630.9,452.4 631.9,452.7 632.9,453.1 633.9,453.4 634.9,453.7 635.9,454.1 636.9,454.4 637.9,454.7 638.9,455.0 639.9,455.3 640.9,455.6 641.9,456.0 642.9,456.3 643.9,456.6 644.9,456.9 645.9,457.2 646.9,457.4 647.9,457.7 648.9,458.0 649.9,458.3 650.9,458.6 651.9,458.8 652.9,459.1 653.9,459.4 655.0,459.6 656.0,459.9 657.0,460.2 658.0,460.4 659.0,460.7 660.0,460.9 661.0,461.2 662.0,461.4 663.0,461.7 664.0,461.9 665.0,462.2 666.0,462.4 667.0,462.7 668.0,462.9" fill="none" stroke="#3A78D8" stroke-width="1.4" stroke-linejoin="round"/>
<circle cx="511.40" cy="482.30" r="2.9" fill="none" stroke="#62CCF4" stroke-width="1.4"/>
<circle cx="519.90" cy="487.80" r="2.9" fill="none" stroke="#62CCF4" stroke-width="1.4"/>
<circle cx="547.00" cy="519.80" r="2.9" fill="none" stroke="#62CCF4" stroke-width="1.4"/>
<circle cx="550.40" cy="541.10" r="2.9" fill="none" stroke="#62CCF4" stroke-width="1.4"/>
<circle cx="575.50" cy="427.00" r="2.9" fill="none" stroke="#62CCF4" stroke-width="1.4"/>
<circle cx="600.50" cy="431.50" r="2.9" fill="none" stroke="#62CCF4" stroke-width="1.4"/>
<circle cx="608.10" cy="445.50" r="2.9" fill="none" stroke="#62CCF4" stroke-width="1.4"/>
<circle cx="668.00" cy="462.90" r="2.9" fill="none" stroke="#62CCF4" stroke-width="1.4"/>
</svg></body></html>
